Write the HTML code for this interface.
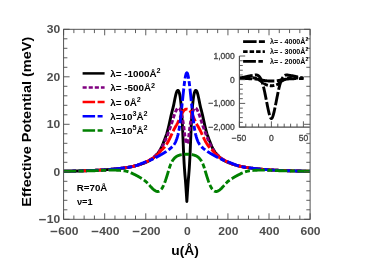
<!DOCTYPE html>
<html><head><meta charset="utf-8"><title>chart</title>
<style>html,body{margin:0;padding:0;background:#fff;}body{width:375px;height:264px;overflow:hidden;}svg{display:block;will-change:transform;}text{font-family:"Liberation Sans",sans-serif;}</style>
</head><body>
<svg width="375" height="264" viewBox="0 0 375 264">
<rect x="0" y="0" width="375" height="264" fill="#ffffff"/>
<clipPath id="cm"><rect x="63.6" y="29.3" width="246.50000000000003" height="190.0"/></clipPath>
<g clip-path="url(#cm)" fill="none" stroke-linejoin="round">
<path d="M63.60,171.29 L63.87,171.28 L64.15,171.28 L64.42,171.27 L64.70,171.27 L64.97,171.26 L65.24,171.26 L65.52,171.25 L65.79,171.25 L66.06,171.24 L66.34,171.23 L66.61,171.23 L66.89,171.22 L67.16,171.22 L67.43,171.21 L67.71,171.20 L67.98,171.20 L68.26,171.19 L68.53,171.19 L68.80,171.18 L69.08,171.17 L69.35,171.17 L69.63,171.16 L69.90,171.16 L70.17,171.15 L70.45,171.14 L70.72,171.14 L71.00,171.13 L71.27,171.12 L71.54,171.12 L71.82,171.11 L72.09,171.10 L72.36,171.10 L72.64,171.09 L72.91,171.08 L73.19,171.08 L73.46,171.07 L73.73,171.06 L74.01,171.06 L74.28,171.05 L74.56,171.04 L74.83,171.04 L75.10,171.03 L75.38,171.02 L75.65,171.01 L75.92,171.01 L76.20,171.00 L76.47,170.99 L76.75,170.98 L77.02,170.98 L77.29,170.97 L77.57,170.96 L77.84,170.95 L78.12,170.95 L78.39,170.94 L78.66,170.93 L78.94,170.92 L79.21,170.91 L79.49,170.91 L79.76,170.90 L80.03,170.89 L80.31,170.88 L80.58,170.87 L80.86,170.87 L81.13,170.86 L81.40,170.85 L81.68,170.84 L81.95,170.83 L82.22,170.82 L82.50,170.81 L82.77,170.80 L83.05,170.80 L83.32,170.79 L83.59,170.78 L83.87,170.77 L84.14,170.76 L84.42,170.75 L84.69,170.74 L84.96,170.73 L85.24,170.72 L85.51,170.71 L85.78,170.70 L86.06,170.69 L86.33,170.68 L86.61,170.67 L86.88,170.66 L87.15,170.65 L87.43,170.64 L87.70,170.63 L87.98,170.62 L88.25,170.61 L88.52,170.60 L88.80,170.59 L89.07,170.58 L89.35,170.57 L89.62,170.56 L89.89,170.55 L90.17,170.54 L90.44,170.53 L90.72,170.52 L90.99,170.50 L91.26,170.49 L91.54,170.48 L91.81,170.47 L92.08,170.46 L92.36,170.45 L92.63,170.43 L92.91,170.42 L93.18,170.41 L93.45,170.40 L93.73,170.39 L94.00,170.37 L94.28,170.36 L94.55,170.35 L94.82,170.34 L95.10,170.32 L95.37,170.31 L95.65,170.30 L95.92,170.28 L96.19,170.27 L96.47,170.26 L96.74,170.24 L97.01,170.23 L97.29,170.22 L97.56,170.20 L97.84,170.19 L98.11,170.18 L98.38,170.16 L98.66,170.15 L98.93,170.13 L99.21,170.12 L99.48,170.10 L99.75,170.09 L100.03,170.07 L100.30,170.06 L100.58,170.04 L100.85,170.03 L101.12,170.01 L101.40,170.00 L101.67,169.98 L101.94,169.96 L102.22,169.95 L102.49,169.93 L102.77,169.91 L103.04,169.90 L103.31,169.88 L103.59,169.86 L103.86,169.85 L104.14,169.83 L104.41,169.81 L104.68,169.79 L104.96,169.78 L105.23,169.76 L105.51,169.74 L105.78,169.72 L106.05,169.70 L106.33,169.69 L106.60,169.67 L106.87,169.65 L107.15,169.63 L107.42,169.61 L107.70,169.59 L107.97,169.57 L108.24,169.55 L108.52,169.53 L108.79,169.51 L109.07,169.49 L109.34,169.47 L109.61,169.45 L109.89,169.43 L110.16,169.40 L110.44,169.38 L110.71,169.36 L110.98,169.34 L111.26,169.32 L111.53,169.29 L111.80,169.27 L112.08,169.25 L112.35,169.22 L112.63,169.20 L112.90,169.18 L113.17,169.15 L113.45,169.13 L113.72,169.10 L114.00,169.08 L114.27,169.05 L114.54,169.03 L114.82,169.00 L115.09,168.97 L115.37,168.95 L115.64,168.92 L115.91,168.89 L116.19,168.87 L116.46,168.84 L116.73,168.81 L117.01,168.78 L117.28,168.75 L117.56,168.72 L117.83,168.69 L118.10,168.66 L118.38,168.63 L118.65,168.60 L118.93,168.57 L119.20,168.54 L119.47,168.51 L119.75,168.48 L120.02,168.45 L120.30,168.41 L120.57,168.38 L120.84,168.35 L121.12,168.31 L121.39,168.28 L121.66,168.25 L121.94,168.21 L122.21,168.18 L122.49,168.14 L122.76,168.11 L123.03,168.07 L123.31,168.03 L123.58,167.99 L123.86,167.96 L124.13,167.92 L124.40,167.88 L124.68,167.84 L124.95,167.80 L125.23,167.76 L125.50,167.72 L125.77,167.68 L126.05,167.64 L126.32,167.60 L126.59,167.56 L126.87,167.51 L127.14,167.47 L127.42,167.43 L127.69,167.38 L127.96,167.34 L128.24,167.29 L128.51,167.25 L128.79,167.20 L129.06,167.15 L129.33,167.10 L129.61,167.05 L129.88,167.00 L130.16,166.95 L130.43,166.90 L130.70,166.85 L130.98,166.80 L131.25,166.74 L131.52,166.69 L131.80,166.63 L132.07,166.58 L132.35,166.52 L132.62,166.46 L132.89,166.40 L133.17,166.34 L133.44,166.28 L133.72,166.22 L133.99,166.15 L134.26,166.09 L134.54,166.02 L134.81,165.96 L135.09,165.89 L135.36,165.82 L135.63,165.75 L135.91,165.68 L136.18,165.61 L136.45,165.53 L136.73,165.46 L137.00,165.38 L137.28,165.31 L137.55,165.23 L137.82,165.15 L138.10,165.07 L138.37,164.99 L138.65,164.91 L138.92,164.82 L139.19,164.74 L139.47,164.65 L139.74,164.57 L140.02,164.48 L140.29,164.39 L140.56,164.30 L140.84,164.21 L141.11,164.11 L141.38,164.02 L141.66,163.92 L141.93,163.83 L142.21,163.73 L142.48,163.63 L142.75,163.53 L143.03,163.43 L143.30,163.33 L143.58,163.23 L143.85,163.12 L144.12,163.02 L144.40,162.91 L144.67,162.80 L144.95,162.69 L145.22,162.58 L145.49,162.47 L145.77,162.36 L146.04,162.24 L146.31,162.12 L146.59,162.00 L146.86,161.88 L147.14,161.76 L147.41,161.63 L147.68,161.50 L147.96,161.37 L148.23,161.23 L148.51,161.09 L148.78,160.95 L149.05,160.80 L149.33,160.65 L149.60,160.50 L149.88,160.34 L150.15,160.18 L150.42,160.01 L150.70,159.84 L150.97,159.67 L151.24,159.49 L151.52,159.30 L151.79,159.11 L152.07,158.91 L152.34,158.71 L152.61,158.51 L152.89,158.29 L153.16,158.07 L153.44,157.85 L153.71,157.62 L153.98,157.38 L154.26,157.14 L154.53,156.89 L154.81,156.63 L155.08,156.36 L155.35,156.09 L155.63,155.81 L155.90,155.53 L156.17,155.23 L156.45,154.93 L156.72,154.62 L157.00,154.30 L157.27,153.98 L157.54,153.64 L157.82,153.29 L158.09,152.93 L158.37,152.56 L158.64,152.18 L158.91,151.78 L159.19,151.37 L159.46,150.94 L159.74,150.50 L160.01,150.04 L160.28,149.56 L160.56,149.07 L160.83,148.56 L161.10,148.02 L161.38,147.47 L161.65,146.90 L161.93,146.30 L162.20,145.68 L162.47,145.04 L162.75,144.37 L163.02,143.69 L163.30,142.99 L163.57,142.28 L163.84,141.57 L164.12,140.86 L164.39,140.15 L164.67,139.45 L164.94,138.75 L165.21,138.05 L165.49,137.34 L165.76,136.61 L166.03,135.85 L166.31,135.06 L166.58,134.23 L166.86,133.35 L167.13,132.43 L167.40,131.45 L167.68,130.43 L167.95,129.37 L168.23,128.28 L168.50,127.15 L168.77,125.99 L169.05,124.81 L169.32,123.60 L169.60,122.38 L169.87,121.14 L170.14,119.89 L170.42,118.63 L170.69,117.38 L170.96,116.14 L171.24,114.93 L171.51,113.74 L171.79,112.58 L172.06,111.48 L172.33,110.41 L172.61,109.37 L172.88,108.32 L173.16,107.23 L173.43,106.08 L173.70,104.83 L173.98,103.50 L174.25,102.12 L174.53,100.72 L174.80,99.33 L175.07,97.98 L175.35,96.70 L175.62,95.49 L175.89,94.38 L176.17,93.38 L176.44,92.51 L176.72,91.77 L176.99,91.18 L177.26,90.74 L177.54,90.46 L177.81,90.34 L178.09,90.39 L178.36,90.62 L178.63,91.03 L178.91,91.63 L179.18,92.43 L179.46,93.43 L179.73,94.63 L180.00,96.09 L180.28,97.82 L180.55,99.87 L180.82,102.27 L181.10,105.06 L181.37,108.26 L181.65,111.91 L181.92,116.05 L182.19,120.76 L182.47,126.16 L182.74,132.31 L183.02,138.97 L183.29,145.70 L183.56,152.14 L183.84,157.99 L184.11,163.10 L184.39,167.53 L184.66,171.39 L184.93,174.80 L185.21,177.92 L185.48,181.04 L185.75,184.55 L186.03,188.55 L186.30,192.84 L186.58,197.22 L186.85,201.49 L187.12,197.22 L187.40,192.84 L187.67,188.55 L187.95,184.55 L188.22,181.04 L188.49,177.92 L188.77,174.80 L189.04,171.39 L189.32,167.53 L189.59,163.10 L189.86,157.99 L190.14,152.14 L190.41,145.70 L190.68,138.97 L190.96,132.31 L191.23,126.16 L191.51,120.76 L191.78,116.05 L192.05,111.91 L192.33,108.26 L192.60,105.06 L192.88,102.27 L193.15,99.87 L193.42,97.82 L193.70,96.09 L193.97,94.63 L194.25,93.43 L194.52,92.43 L194.79,91.63 L195.07,91.03 L195.34,90.62 L195.61,90.39 L195.89,90.34 L196.16,90.46 L196.44,90.74 L196.71,91.18 L196.98,91.77 L197.26,92.51 L197.53,93.38 L197.81,94.38 L198.08,95.49 L198.35,96.70 L198.63,97.98 L198.90,99.33 L199.18,100.72 L199.45,102.12 L199.72,103.50 L200.00,104.83 L200.27,106.08 L200.54,107.23 L200.82,108.32 L201.09,109.37 L201.37,110.41 L201.64,111.48 L201.91,112.58 L202.19,113.74 L202.46,114.93 L202.74,116.14 L203.01,117.38 L203.28,118.63 L203.56,119.89 L203.83,121.14 L204.11,122.38 L204.38,123.60 L204.65,124.81 L204.93,125.99 L205.20,127.15 L205.47,128.28 L205.75,129.37 L206.02,130.43 L206.30,131.45 L206.57,132.43 L206.84,133.35 L207.12,134.23 L207.39,135.06 L207.67,135.85 L207.94,136.61 L208.21,137.34 L208.49,138.05 L208.76,138.75 L209.04,139.45 L209.31,140.15 L209.58,140.86 L209.86,141.57 L210.13,142.28 L210.40,142.99 L210.68,143.69 L210.95,144.37 L211.23,145.04 L211.50,145.68 L211.77,146.30 L212.05,146.90 L212.32,147.47 L212.60,148.02 L212.87,148.56 L213.14,149.07 L213.42,149.56 L213.69,150.04 L213.97,150.50 L214.24,150.94 L214.51,151.37 L214.79,151.78 L215.06,152.18 L215.33,152.56 L215.61,152.93 L215.88,153.29 L216.16,153.64 L216.43,153.98 L216.70,154.30 L216.98,154.62 L217.25,154.93 L217.53,155.23 L217.80,155.53 L218.07,155.81 L218.35,156.09 L218.62,156.36 L218.90,156.63 L219.17,156.89 L219.44,157.14 L219.72,157.38 L219.99,157.62 L220.26,157.85 L220.54,158.07 L220.81,158.29 L221.09,158.51 L221.36,158.71 L221.63,158.91 L221.91,159.11 L222.18,159.30 L222.46,159.49 L222.73,159.67 L223.00,159.84 L223.28,160.01 L223.55,160.18 L223.83,160.34 L224.10,160.50 L224.37,160.65 L224.65,160.80 L224.92,160.95 L225.19,161.09 L225.47,161.23 L225.74,161.37 L226.02,161.50 L226.29,161.63 L226.56,161.76 L226.84,161.88 L227.11,162.00 L227.39,162.12 L227.66,162.24 L227.93,162.36 L228.21,162.47 L228.48,162.58 L228.76,162.69 L229.03,162.80 L229.30,162.91 L229.58,163.02 L229.85,163.12 L230.12,163.23 L230.40,163.33 L230.67,163.43 L230.95,163.53 L231.22,163.63 L231.49,163.73 L231.77,163.83 L232.04,163.92 L232.32,164.02 L232.59,164.11 L232.86,164.21 L233.14,164.30 L233.41,164.39 L233.69,164.48 L233.96,164.57 L234.23,164.65 L234.51,164.74 L234.78,164.82 L235.05,164.91 L235.33,164.99 L235.60,165.07 L235.88,165.15 L236.15,165.23 L236.42,165.31 L236.70,165.38 L236.97,165.46 L237.25,165.53 L237.52,165.61 L237.79,165.68 L238.07,165.75 L238.34,165.82 L238.62,165.89 L238.89,165.96 L239.16,166.02 L239.44,166.09 L239.71,166.15 L239.98,166.22 L240.26,166.28 L240.53,166.34 L240.81,166.40 L241.08,166.46 L241.35,166.52 L241.63,166.58 L241.90,166.63 L242.18,166.69 L242.45,166.74 L242.72,166.80 L243.00,166.85 L243.27,166.90 L243.55,166.95 L243.82,167.00 L244.09,167.05 L244.37,167.10 L244.64,167.15 L244.91,167.20 L245.19,167.25 L245.46,167.29 L245.74,167.34 L246.01,167.38 L246.28,167.43 L246.56,167.47 L246.83,167.51 L247.11,167.56 L247.38,167.60 L247.65,167.64 L247.93,167.68 L248.20,167.72 L248.48,167.76 L248.75,167.80 L249.02,167.84 L249.30,167.88 L249.57,167.92 L249.84,167.96 L250.12,167.99 L250.39,168.03 L250.67,168.07 L250.94,168.11 L251.21,168.14 L251.49,168.18 L251.76,168.21 L252.04,168.25 L252.31,168.28 L252.58,168.31 L252.86,168.35 L253.13,168.38 L253.41,168.41 L253.68,168.45 L253.95,168.48 L254.23,168.51 L254.50,168.54 L254.77,168.57 L255.05,168.60 L255.32,168.63 L255.60,168.66 L255.87,168.69 L256.14,168.72 L256.42,168.75 L256.69,168.78 L256.97,168.81 L257.24,168.84 L257.51,168.87 L257.79,168.89 L258.06,168.92 L258.34,168.95 L258.61,168.97 L258.88,169.00 L259.16,169.03 L259.43,169.05 L259.70,169.08 L259.98,169.10 L260.25,169.13 L260.53,169.15 L260.80,169.18 L261.07,169.20 L261.35,169.22 L261.62,169.25 L261.90,169.27 L262.17,169.29 L262.44,169.32 L262.72,169.34 L262.99,169.36 L263.27,169.38 L263.54,169.40 L263.81,169.43 L264.09,169.45 L264.36,169.47 L264.63,169.49 L264.91,169.51 L265.18,169.53 L265.46,169.55 L265.73,169.57 L266.00,169.59 L266.28,169.61 L266.55,169.63 L266.83,169.65 L267.10,169.67 L267.37,169.69 L267.65,169.70 L267.92,169.72 L268.20,169.74 L268.47,169.76 L268.74,169.78 L269.02,169.79 L269.29,169.81 L269.56,169.83 L269.84,169.85 L270.11,169.86 L270.39,169.88 L270.66,169.90 L270.93,169.91 L271.21,169.93 L271.48,169.95 L271.76,169.96 L272.03,169.98 L272.30,170.00 L272.58,170.01 L272.85,170.03 L273.13,170.04 L273.40,170.06 L273.67,170.07 L273.95,170.09 L274.22,170.10 L274.49,170.12 L274.77,170.13 L275.04,170.15 L275.32,170.16 L275.59,170.18 L275.86,170.19 L276.14,170.20 L276.41,170.22 L276.69,170.23 L276.96,170.24 L277.23,170.26 L277.51,170.27 L277.78,170.28 L278.06,170.30 L278.33,170.31 L278.60,170.32 L278.88,170.34 L279.15,170.35 L279.42,170.36 L279.70,170.37 L279.97,170.39 L280.25,170.40 L280.52,170.41 L280.79,170.42 L281.07,170.43 L281.34,170.45 L281.62,170.46 L281.89,170.47 L282.16,170.48 L282.44,170.49 L282.71,170.50 L282.99,170.52 L283.26,170.53 L283.53,170.54 L283.81,170.55 L284.08,170.56 L284.35,170.57 L284.63,170.58 L284.90,170.59 L285.18,170.60 L285.45,170.61 L285.72,170.62 L286.00,170.63 L286.27,170.64 L286.55,170.65 L286.82,170.66 L287.09,170.67 L287.37,170.68 L287.64,170.69 L287.92,170.70 L288.19,170.71 L288.46,170.72 L288.74,170.73 L289.01,170.74 L289.28,170.75 L289.56,170.76 L289.83,170.77 L290.11,170.78 L290.38,170.79 L290.65,170.80 L290.93,170.80 L291.20,170.81 L291.48,170.82 L291.75,170.83 L292.02,170.84 L292.30,170.85 L292.57,170.86 L292.85,170.87 L293.12,170.87 L293.39,170.88 L293.67,170.89 L293.94,170.90 L294.21,170.91 L294.49,170.91 L294.76,170.92 L295.04,170.93 L295.31,170.94 L295.58,170.95 L295.86,170.95 L296.13,170.96 L296.41,170.97 L296.68,170.98 L296.95,170.98 L297.23,170.99 L297.50,171.00 L297.78,171.01 L298.05,171.01 L298.32,171.02 L298.60,171.03 L298.87,171.04 L299.14,171.04 L299.42,171.05 L299.69,171.06 L299.97,171.06 L300.24,171.07 L300.51,171.08 L300.79,171.08 L301.06,171.09 L301.34,171.10 L301.61,171.10 L301.88,171.11 L302.16,171.12 L302.43,171.12 L302.71,171.13 L302.98,171.14 L303.25,171.14 L303.53,171.15 L303.80,171.16 L304.07,171.16 L304.35,171.17 L304.62,171.17 L304.90,171.18 L305.17,171.19 L305.44,171.19 L305.72,171.20 L305.99,171.20 L306.27,171.21 L306.54,171.22 L306.81,171.22 L307.09,171.23 L307.36,171.23 L307.64,171.24 L307.91,171.25 L308.18,171.25 L308.46,171.26 L308.73,171.26 L309.00,171.27 L309.28,171.27 L309.55,171.28 L309.83,171.28 L310.10,171.29" stroke="#000000" stroke-width="2.9"/>
<path d="M125.23,167.76 L125.50,167.72 L125.77,167.68 L126.05,167.64 L126.32,167.59 L126.59,167.55 L126.87,167.50 L127.14,167.46 L127.42,167.41 L127.69,167.37 L127.96,167.32 L128.24,167.27 L128.51,167.22 L128.79,167.18 L129.06,167.13 L129.33,167.08 L129.61,167.03 L129.88,166.98 L130.16,166.92 L130.43,166.87 L130.70,166.82 L130.98,166.77 L131.25,166.71 L131.52,166.66 L131.80,166.60 L132.07,166.55 L132.35,166.49 L132.62,166.43 L132.89,166.37 L133.17,166.32 L133.44,166.26 L133.72,166.20 L133.99,166.13 L134.26,166.07 L134.54,166.01 L134.81,165.95 L135.09,165.88 L135.36,165.82 L135.63,165.75 L135.91,165.69 L136.18,165.62 L136.45,165.55 L136.73,165.48 L137.00,165.41 L137.28,165.34 L137.55,165.27 L137.82,165.20 L138.10,165.12 L138.37,165.05 L138.65,164.97 L138.92,164.89 L139.19,164.81 L139.47,164.73 L139.74,164.64 L140.02,164.56 L140.29,164.47 L140.56,164.38 L140.84,164.29 L141.11,164.20 L141.38,164.11 L141.66,164.01 L141.93,163.91 L142.21,163.81 L142.48,163.71 L142.75,163.60 L143.03,163.49 L143.30,163.38 L143.58,163.27 L143.85,163.15 L144.12,163.04 L144.40,162.92 L144.67,162.79 L144.95,162.67 L145.22,162.54 L145.49,162.41 L145.77,162.27 L146.04,162.13 L146.31,161.99 L146.59,161.85 L146.86,161.71 L147.14,161.56 L147.41,161.41 L147.68,161.25 L147.96,161.10 L148.23,160.94 L148.51,160.77 L148.78,160.61 L149.05,160.44 L149.33,160.27 L149.60,160.09 L149.88,159.91 L150.15,159.73 L150.42,159.55 L150.70,159.36 L150.97,159.17 L151.24,158.98 L151.52,158.79 L151.79,158.59 L152.07,158.39 L152.34,158.18 L152.61,157.97 L152.89,157.76 L153.16,157.55 L153.44,157.33 L153.71,157.11 L153.98,156.89 L154.26,156.66 L154.53,156.43 L154.81,156.19 L155.08,155.95 L155.35,155.70 L155.63,155.45 L155.90,155.19 L156.17,154.92 L156.45,154.65 L156.72,154.37 L157.00,154.08 L157.27,153.78 L157.54,153.48 L157.82,153.17 L158.09,152.85 L158.37,152.52 L158.64,152.18 L158.91,151.83 L159.19,151.47 L159.46,151.10 L159.74,150.72 L160.01,150.33 L160.28,149.92 L160.56,149.51 L160.83,149.08 L161.10,148.64 L161.38,148.19 L161.65,147.73 L161.93,147.26 L162.20,146.77 L162.47,146.27 L162.75,145.76 L163.02,145.24 L163.30,144.71 L163.57,144.16 L163.84,143.60 L164.12,143.03 L164.39,142.44 L164.67,141.85 L164.94,141.24 L165.21,140.61 L165.49,139.98 L165.76,139.33 L166.03,138.67 L166.31,138.00 L166.58,137.32 L166.86,136.63 L167.13,135.94 L167.40,135.23 L167.68,134.52 L167.95,133.80 L168.23,133.08 L168.50,132.35 L168.77,131.61 L169.05,130.86 L169.32,130.11 L169.60,129.35 L169.87,128.59 L170.14,127.81 L170.42,127.02 L170.69,126.23 L170.96,125.42 L171.24,124.61 L171.51,123.78 L171.79,122.94 L172.06,122.09 L172.33,121.23 L172.61,120.36 L172.88,119.48 L173.16,118.61 L173.43,117.74 L173.70,116.88 L173.98,116.03 L174.25,115.21 L174.53,114.42 L174.80,113.66 L175.07,112.95 L175.35,112.27 L175.62,111.63 L175.89,111.03 L176.17,110.48 L176.44,109.97 L176.72,109.51 L176.99,109.10 L177.26,108.74 L177.54,108.43 L177.81,108.19 L178.09,108.01 L178.36,107.92 L178.63,107.91 L178.91,108.00 L179.18,108.18 L179.46,108.46 L179.73,108.84 L180.00,109.32 L180.28,109.91 L180.55,110.61 L180.82,111.42 L181.10,112.33 L181.37,113.36 L181.65,114.48 L181.92,115.71 L182.19,117.04 L182.47,118.46 L182.74,119.98 L183.02,121.57 L183.29,123.25 L183.56,125.04 L183.84,127.02 L184.11,129.25 L184.39,131.68 L184.66,134.09 L184.93,136.28 L185.21,138.17 L185.48,139.76 L185.75,141.10 L186.03,142.20 L186.30,143.05 L186.58,143.59 L186.85,143.78 L187.12,143.59 L187.40,143.05 L187.67,142.20 L187.95,141.10 L188.22,139.76 L188.49,138.17 L188.77,136.28 L189.04,134.09 L189.32,131.68 L189.59,129.25 L189.86,127.02 L190.14,125.04 L190.41,123.25 L190.68,121.57 L190.96,119.98 L191.23,118.46 L191.51,117.04 L191.78,115.71 L192.05,114.48 L192.33,113.36 L192.60,112.33 L192.88,111.42 L193.15,110.61 L193.42,109.91 L193.70,109.32 L193.97,108.84 L194.25,108.46 L194.52,108.18 L194.79,108.00 L195.07,107.91 L195.34,107.92 L195.61,108.01 L195.89,108.19 L196.16,108.43 L196.44,108.74 L196.71,109.10 L196.98,109.51 L197.26,109.97 L197.53,110.48 L197.81,111.03 L198.08,111.63 L198.35,112.27 L198.63,112.95 L198.90,113.66 L199.18,114.42 L199.45,115.21 L199.72,116.03 L200.00,116.88 L200.27,117.74 L200.54,118.61 L200.82,119.48 L201.09,120.36 L201.37,121.23 L201.64,122.09 L201.91,122.94 L202.19,123.78 L202.46,124.61 L202.74,125.42 L203.01,126.23 L203.28,127.02 L203.56,127.81 L203.83,128.59 L204.11,129.35 L204.38,130.11 L204.65,130.86 L204.93,131.61 L205.20,132.35 L205.47,133.08 L205.75,133.80 L206.02,134.52 L206.30,135.23 L206.57,135.94 L206.84,136.63 L207.12,137.32 L207.39,138.00 L207.67,138.67 L207.94,139.33 L208.21,139.98 L208.49,140.61 L208.76,141.24 L209.04,141.85 L209.31,142.44 L209.58,143.03 L209.86,143.60 L210.13,144.16 L210.40,144.71 L210.68,145.24 L210.95,145.76 L211.23,146.27 L211.50,146.77 L211.77,147.26 L212.05,147.73 L212.32,148.19 L212.60,148.64 L212.87,149.08 L213.14,149.51 L213.42,149.92 L213.69,150.33 L213.97,150.72 L214.24,151.10 L214.51,151.47 L214.79,151.83 L215.06,152.18 L215.33,152.52 L215.61,152.85 L215.88,153.17 L216.16,153.48 L216.43,153.78 L216.70,154.08 L216.98,154.37 L217.25,154.65 L217.53,154.92 L217.80,155.19 L218.07,155.45 L218.35,155.70 L218.62,155.95 L218.90,156.19 L219.17,156.43 L219.44,156.66 L219.72,156.89 L219.99,157.11 L220.26,157.33 L220.54,157.55 L220.81,157.76 L221.09,157.97 L221.36,158.18 L221.63,158.39 L221.91,158.59 L222.18,158.79 L222.46,158.98 L222.73,159.17 L223.00,159.36 L223.28,159.55 L223.55,159.73 L223.83,159.91 L224.10,160.09 L224.37,160.27 L224.65,160.44 L224.92,160.61 L225.19,160.77 L225.47,160.94 L225.74,161.10 L226.02,161.25 L226.29,161.41 L226.56,161.56 L226.84,161.71 L227.11,161.85 L227.39,161.99 L227.66,162.13 L227.93,162.27 L228.21,162.41 L228.48,162.54 L228.76,162.67 L229.03,162.79 L229.30,162.92 L229.58,163.04 L229.85,163.15 L230.12,163.27 L230.40,163.38 L230.67,163.49 L230.95,163.60 L231.22,163.71 L231.49,163.81 L231.77,163.91 L232.04,164.01 L232.32,164.11 L232.59,164.20 L232.86,164.29 L233.14,164.38 L233.41,164.47 L233.69,164.56 L233.96,164.64 L234.23,164.73 L234.51,164.81 L234.78,164.89 L235.05,164.97 L235.33,165.05 L235.60,165.12 L235.88,165.20 L236.15,165.27 L236.42,165.34 L236.70,165.41 L236.97,165.48 L237.25,165.55 L237.52,165.62 L237.79,165.69 L238.07,165.75 L238.34,165.82 L238.62,165.88 L238.89,165.95 L239.16,166.01 L239.44,166.07 L239.71,166.13 L239.98,166.20 L240.26,166.26 L240.53,166.32 L240.81,166.37 L241.08,166.43 L241.35,166.49 L241.63,166.55 L241.90,166.60 L242.18,166.66 L242.45,166.71 L242.72,166.77 L243.00,166.82 L243.27,166.87 L243.55,166.92 L243.82,166.98 L244.09,167.03 L244.37,167.08 L244.64,167.13 L244.91,167.18 L245.19,167.22 L245.46,167.27 L245.74,167.32 L246.01,167.37 L246.28,167.41 L246.56,167.46 L246.83,167.50 L247.11,167.55 L247.38,167.59 L247.65,167.64 L247.93,167.68 L248.20,167.72 L248.48,167.76" stroke="#800080" stroke-width="2.9" stroke-dasharray="4.2 2.05"/>
<path d="M63.60,171.29 L63.87,171.28 L64.15,171.28 L64.42,171.27 L64.70,171.26 L64.97,171.26 L65.24,171.25 L65.52,171.25 L65.79,171.24 L66.06,171.23 L66.34,171.23 L66.61,171.22 L66.89,171.21 L67.16,171.21 L67.43,171.20 L67.71,171.19 L67.98,171.19 L68.26,171.18 L68.53,171.17 L68.80,171.17 L69.08,171.16 L69.35,171.16 L69.63,171.15 L69.90,171.14 L70.17,171.14 L70.45,171.13 L70.72,171.12 L71.00,171.12 L71.27,171.11 L71.54,171.10 L71.82,171.10 L72.09,171.09 L72.36,171.08 L72.64,171.08 L72.91,171.07 L73.19,171.06 L73.46,171.06 L73.73,171.05 L74.01,171.04 L74.28,171.04 L74.56,171.03 L74.83,171.02 L75.10,171.02 L75.38,171.01 L75.65,171.00 L75.92,171.00 L76.20,170.99 L76.47,170.98 L76.75,170.97 L77.02,170.97 L77.29,170.96 L77.57,170.95 L77.84,170.94 L78.12,170.94 L78.39,170.93 L78.66,170.92 L78.94,170.91 L79.21,170.91 L79.49,170.90 L79.76,170.89 L80.03,170.88 L80.31,170.88 L80.58,170.87 L80.86,170.86 L81.13,170.85 L81.40,170.84 L81.68,170.84 L81.95,170.83 L82.22,170.82 L82.50,170.81 L82.77,170.80 L83.05,170.79 L83.32,170.79 L83.59,170.78 L83.87,170.77 L84.14,170.76 L84.42,170.75 L84.69,170.74 L84.96,170.73 L85.24,170.72 L85.51,170.71 L85.78,170.70 L86.06,170.70 L86.33,170.69 L86.61,170.68 L86.88,170.67 L87.15,170.66 L87.43,170.65 L87.70,170.64 L87.98,170.63 L88.25,170.62 L88.52,170.61 L88.80,170.60 L89.07,170.59 L89.35,170.58 L89.62,170.57 L89.89,170.55 L90.17,170.54 L90.44,170.53 L90.72,170.52 L90.99,170.51 L91.26,170.50 L91.54,170.49 L91.81,170.48 L92.08,170.47 L92.36,170.45 L92.63,170.44 L92.91,170.43 L93.18,170.42 L93.45,170.41 L93.73,170.39 L94.00,170.38 L94.28,170.37 L94.55,170.36 L94.82,170.34 L95.10,170.33 L95.37,170.32 L95.65,170.31 L95.92,170.29 L96.19,170.28 L96.47,170.27 L96.74,170.25 L97.01,170.24 L97.29,170.22 L97.56,170.21 L97.84,170.20 L98.11,170.18 L98.38,170.17 L98.66,170.15 L98.93,170.14 L99.21,170.12 L99.48,170.11 L99.75,170.09 L100.03,170.08 L100.30,170.06 L100.58,170.05 L100.85,170.03 L101.12,170.02 L101.40,170.00 L101.67,169.98 L101.94,169.97 L102.22,169.95 L102.49,169.93 L102.77,169.92 L103.04,169.90 L103.31,169.88 L103.59,169.87 L103.86,169.85 L104.14,169.83 L104.41,169.81 L104.68,169.79 L104.96,169.78 L105.23,169.76 L105.51,169.74 L105.78,169.72 L106.05,169.70 L106.33,169.68 L106.60,169.66 L106.87,169.65 L107.15,169.63 L107.42,169.61 L107.70,169.59 L107.97,169.57 L108.24,169.55 L108.52,169.53 L108.79,169.50 L109.07,169.48 L109.34,169.46 L109.61,169.44 L109.89,169.42 L110.16,169.40 L110.44,169.38 L110.71,169.35 L110.98,169.33 L111.26,169.31 L111.53,169.28 L111.80,169.26 L112.08,169.24 L112.35,169.21 L112.63,169.19 L112.90,169.17 L113.17,169.14 L113.45,169.12 L113.72,169.09 L114.00,169.07 L114.27,169.04 L114.54,169.02 L114.82,168.99 L115.09,168.96 L115.37,168.94 L115.64,168.91 L115.91,168.88 L116.19,168.85 L116.46,168.83 L116.73,168.80 L117.01,168.77 L117.28,168.74 L117.56,168.71 L117.83,168.68 L118.10,168.65 L118.38,168.62 L118.65,168.59 L118.93,168.56 L119.20,168.53" stroke="#ff0000" stroke-width="2.9" stroke-dasharray="12.5 2.5"/>
<path d="M119.20,168.53 L119.47,168.50 L119.75,168.47 L120.02,168.44 L120.30,168.40 L120.57,168.37 L120.84,168.34 L121.12,168.31 L121.39,168.27 L121.66,168.24 L121.94,168.20 L122.21,168.17 L122.49,168.13 L122.76,168.10 L123.03,168.06 L123.31,168.03 L123.58,167.99 L123.86,167.95 L124.13,167.92 L124.40,167.88 L124.68,167.84 L124.95,167.80 L125.23,167.76 L125.50,167.72 L125.77,167.68 L126.05,167.64 L126.32,167.60 L126.59,167.56 L126.87,167.52 L127.14,167.48 L127.42,167.44 L127.69,167.39 L127.96,167.35 L128.24,167.30 L128.51,167.26 L128.79,167.21 L129.06,167.17 L129.33,167.12 L129.61,167.07 L129.88,167.02 L130.16,166.97 L130.43,166.92 L130.70,166.87 L130.98,166.81 L131.25,166.76 L131.52,166.71 L131.80,166.65 L132.07,166.59 L132.35,166.54 L132.62,166.48 L132.89,166.42 L133.17,166.36 L133.44,166.29 L133.72,166.23 L133.99,166.17 L134.26,166.10 L134.54,166.03 L134.81,165.96 L135.09,165.89 L135.36,165.82 L135.63,165.75 L135.91,165.68 L136.18,165.60 L136.45,165.52 L136.73,165.45 L137.00,165.37 L137.28,165.28 L137.55,165.20 L137.82,165.12 L138.10,165.03 L138.37,164.95 L138.65,164.86 L138.92,164.77 L139.19,164.68 L139.47,164.58 L139.74,164.49 L140.02,164.39 L140.29,164.30 L140.56,164.20 L140.84,164.10 L141.11,164.00 L141.38,163.89 L141.66,163.79 L141.93,163.68 L142.21,163.58 L142.48,163.47 L142.75,163.36 L143.03,163.24 L143.30,163.13 L143.58,163.02 L143.85,162.90 L144.12,162.78 L144.40,162.66 L144.67,162.54 L144.95,162.42 L145.22,162.29 L145.49,162.17 L145.77,162.04 L146.04,161.91 L146.31,161.78 L146.59,161.65 L146.86,161.51 L147.14,161.38 L147.41,161.24 L147.68,161.10 L147.96,160.96 L148.23,160.82 L148.51,160.68 L148.78,160.53 L149.05,160.38 L149.33,160.24 L149.60,160.09 L149.88,159.94 L150.15,159.78 L150.42,159.63 L150.70,159.47 L150.97,159.32 L151.24,159.16 L151.52,159.00 L151.79,158.84 L152.07,158.67 L152.34,158.51 L152.61,158.35 L152.89,158.18 L153.16,158.01 L153.44,157.84 L153.71,157.67 L153.98,157.50 L154.26,157.32 L154.53,157.13 L154.81,156.94 L155.08,156.75 L155.35,156.54 L155.63,156.33 L155.90,156.12 L156.17,155.89 L156.45,155.65 L156.72,155.41 L157.00,155.15 L157.27,154.89 L157.54,154.61 L157.82,154.32 L158.09,154.01 L158.37,153.70 L158.64,153.38 L158.91,153.06 L159.19,152.73 L159.46,152.40 L159.74,152.08 L160.01,151.76 L160.28,151.45 L160.56,151.15 L160.83,150.86 L161.10,150.57 L161.38,150.30 L161.65,150.02 L161.93,149.75 L162.20,149.48 L162.47,149.21 L162.75,148.94 L163.02,148.66 L163.30,148.38 L163.57,148.09 L163.84,147.80 L164.12,147.49 L164.39,147.18 L164.67,146.85 L164.94,146.51 L165.21,146.15 L165.49,145.79 L165.76,145.41 L166.03,145.02 L166.31,144.62 L166.58,144.20 L166.86,143.77 L167.13,143.33 L167.40,142.88 L167.68,142.41 L167.95,141.93 L168.23,141.44 L168.50,140.94 L168.77,140.42 L169.05,139.89 L169.32,139.34 L169.60,138.79 L169.87,138.22 L170.14,137.64 L170.42,137.05 L170.69,136.45 L170.96,135.85 L171.24,135.25 L171.51,134.64 L171.79,134.04 L172.06,133.43 L172.33,132.84 L172.61,132.25 L172.88,131.67 L173.16,131.10 L173.43,130.54 L173.70,130.00 L173.98,129.48 L174.25,128.96 L174.53,128.47 L174.80,127.98 L175.07,127.50 L175.35,127.02 L175.62,126.55 L175.89,126.07 L176.17,125.60 L176.44,125.11 L176.72,124.62 L176.99,124.12 L177.26,123.61 L177.54,123.08 L177.81,122.54 L178.09,121.98 L178.36,121.42 L178.63,120.84 L178.91,120.25 L179.18,119.65 L179.46,119.04 L179.73,118.43 L180.00,117.82 L180.28,117.20 L180.55,116.59 L180.82,115.98 L181.10,115.38 L181.37,114.80 L181.65,114.23 L181.92,113.68 L182.19,113.15 L182.47,112.65 L182.74,112.18 L183.02,111.74 L183.29,111.33 L183.56,110.96 L183.84,110.62 L184.11,110.32 L184.39,110.05 L184.66,109.82 L184.93,109.63 L185.21,109.48 L185.48,109.35 L185.75,109.25 L186.03,109.18 L186.30,109.13 L186.58,109.11 L186.85,109.10 L187.12,109.11 L187.40,109.13 L187.67,109.18 L187.95,109.25 L188.22,109.35 L188.49,109.48 L188.77,109.63 L189.04,109.82 L189.32,110.05 L189.59,110.32 L189.86,110.62 L190.14,110.96 L190.41,111.33 L190.68,111.74 L190.96,112.18 L191.23,112.65 L191.51,113.15 L191.78,113.68 L192.05,114.23 L192.33,114.80 L192.60,115.38 L192.88,115.98 L193.15,116.59 L193.42,117.20 L193.70,117.82 L193.97,118.43 L194.25,119.04 L194.52,119.65 L194.79,120.25 L195.07,120.84 L195.34,121.42 L195.61,121.98 L195.89,122.54 L196.16,123.08 L196.44,123.61 L196.71,124.12 L196.98,124.62 L197.26,125.11 L197.53,125.60 L197.81,126.07 L198.08,126.55 L198.35,127.02 L198.63,127.50 L198.90,127.98 L199.18,128.47 L199.45,128.96 L199.72,129.48 L200.00,130.00 L200.27,130.54 L200.54,131.10 L200.82,131.67 L201.09,132.25 L201.37,132.84 L201.64,133.43 L201.91,134.04 L202.19,134.64 L202.46,135.25 L202.74,135.85 L203.01,136.45 L203.28,137.05 L203.56,137.64 L203.83,138.22 L204.11,138.79 L204.38,139.34 L204.65,139.89 L204.93,140.42 L205.20,140.94 L205.47,141.44 L205.75,141.93 L206.02,142.41 L206.30,142.88 L206.57,143.33 L206.84,143.77 L207.12,144.20 L207.39,144.62 L207.67,145.02 L207.94,145.41 L208.21,145.79 L208.49,146.15 L208.76,146.51 L209.04,146.85 L209.31,147.18 L209.58,147.49 L209.86,147.80 L210.13,148.09 L210.40,148.38 L210.68,148.66 L210.95,148.94 L211.23,149.21 L211.50,149.48 L211.77,149.75 L212.05,150.02 L212.32,150.30 L212.60,150.57 L212.87,150.86 L213.14,151.15 L213.42,151.45 L213.69,151.76 L213.97,152.08 L214.24,152.40 L214.51,152.73 L214.79,153.06 L215.06,153.38 L215.33,153.70 L215.61,154.01 L215.88,154.32 L216.16,154.61 L216.43,154.89 L216.70,155.15 L216.98,155.41 L217.25,155.65 L217.53,155.89 L217.80,156.12 L218.07,156.33 L218.35,156.54 L218.62,156.75 L218.90,156.94 L219.17,157.13 L219.44,157.32 L219.72,157.50 L219.99,157.67 L220.26,157.84 L220.54,158.01 L220.81,158.18 L221.09,158.35 L221.36,158.51 L221.63,158.67 L221.91,158.84 L222.18,159.00 L222.46,159.16 L222.73,159.32 L223.00,159.47 L223.28,159.63 L223.55,159.78 L223.83,159.94 L224.10,160.09 L224.37,160.24 L224.65,160.38 L224.92,160.53 L225.19,160.68 L225.47,160.82 L225.74,160.96 L226.02,161.10 L226.29,161.24 L226.56,161.38 L226.84,161.51 L227.11,161.65 L227.39,161.78 L227.66,161.91 L227.93,162.04 L228.21,162.17 L228.48,162.29 L228.76,162.42 L229.03,162.54 L229.30,162.66 L229.58,162.78 L229.85,162.90 L230.12,163.02 L230.40,163.13 L230.67,163.24 L230.95,163.36 L231.22,163.47 L231.49,163.58 L231.77,163.68 L232.04,163.79 L232.32,163.89 L232.59,164.00 L232.86,164.10 L233.14,164.20 L233.41,164.30 L233.69,164.39 L233.96,164.49 L234.23,164.58 L234.51,164.68 L234.78,164.77 L235.05,164.86 L235.33,164.95 L235.60,165.03 L235.88,165.12 L236.15,165.20 L236.42,165.28 L236.70,165.37 L236.97,165.45 L237.25,165.52 L237.52,165.60 L237.79,165.68 L238.07,165.75 L238.34,165.82 L238.62,165.89 L238.89,165.96 L239.16,166.03 L239.44,166.10 L239.71,166.17 L239.98,166.23 L240.26,166.29 L240.53,166.36 L240.81,166.42 L241.08,166.48 L241.35,166.54 L241.63,166.59 L241.90,166.65 L242.18,166.71 L242.45,166.76 L242.72,166.81 L243.00,166.87 L243.27,166.92 L243.55,166.97 L243.82,167.02 L244.09,167.07 L244.37,167.12 L244.64,167.17 L244.91,167.21 L245.19,167.26 L245.46,167.30 L245.74,167.35 L246.01,167.39 L246.28,167.44 L246.56,167.48 L246.83,167.52 L247.11,167.56 L247.38,167.60 L247.65,167.64 L247.93,167.68 L248.20,167.72 L248.48,167.76 L248.75,167.80 L249.02,167.84 L249.30,167.88 L249.57,167.92 L249.84,167.95 L250.12,167.99 L250.39,168.03 L250.67,168.06 L250.94,168.10 L251.21,168.13 L251.49,168.17 L251.76,168.20 L252.04,168.24 L252.31,168.27 L252.58,168.31 L252.86,168.34 L253.13,168.37 L253.41,168.40 L253.68,168.44 L253.95,168.47 L254.23,168.50 L254.50,168.53 L254.77,168.56 L255.05,168.59 L255.32,168.62 L255.60,168.65 L255.87,168.68 L256.14,168.71 L256.42,168.74 L256.69,168.77 L256.97,168.80 L257.24,168.83 L257.51,168.85 L257.79,168.88 L258.06,168.91 L258.34,168.94 L258.61,168.96 L258.88,168.99 L259.16,169.02 L259.43,169.04 L259.70,169.07 L259.98,169.09 L260.25,169.12 L260.53,169.14 L260.80,169.17 L261.07,169.19 L261.35,169.21 L261.62,169.24 L261.90,169.26 L262.17,169.28 L262.44,169.31 L262.72,169.33 L262.99,169.35 L263.27,169.38 L263.54,169.40 L263.81,169.42 L264.09,169.44 L264.36,169.46 L264.63,169.48 L264.91,169.50 L265.18,169.53 L265.46,169.55 L265.73,169.57 L266.00,169.59 L266.28,169.61 L266.55,169.63 L266.83,169.65 L267.10,169.66 L267.37,169.68 L267.65,169.70 L267.92,169.72 L268.20,169.74 L268.47,169.76 L268.74,169.78 L269.02,169.79 L269.29,169.81 L269.56,169.83 L269.84,169.85 L270.11,169.87 L270.39,169.88 L270.66,169.90 L270.93,169.92 L271.21,169.93 L271.48,169.95 L271.76,169.97 L272.03,169.98 L272.30,170.00 L272.58,170.02 L272.85,170.03 L273.13,170.05 L273.40,170.06 L273.67,170.08 L273.95,170.09 L274.22,170.11 L274.49,170.12 L274.77,170.14 L275.04,170.15 L275.32,170.17 L275.59,170.18 L275.86,170.20 L276.14,170.21 L276.41,170.22 L276.69,170.24 L276.96,170.25 L277.23,170.27 L277.51,170.28 L277.78,170.29 L278.06,170.31 L278.33,170.32 L278.60,170.33 L278.88,170.34 L279.15,170.36 L279.42,170.37 L279.70,170.38 L279.97,170.39 L280.25,170.41 L280.52,170.42 L280.79,170.43 L281.07,170.44 L281.34,170.45 L281.62,170.47 L281.89,170.48 L282.16,170.49 L282.44,170.50 L282.71,170.51 L282.99,170.52 L283.26,170.53 L283.53,170.54 L283.81,170.55 L284.08,170.57 L284.35,170.58 L284.63,170.59 L284.90,170.60 L285.18,170.61 L285.45,170.62 L285.72,170.63 L286.00,170.64 L286.27,170.65 L286.55,170.66 L286.82,170.67 L287.09,170.68 L287.37,170.69 L287.64,170.70 L287.92,170.70 L288.19,170.71 L288.46,170.72 L288.74,170.73 L289.01,170.74 L289.28,170.75 L289.56,170.76 L289.83,170.77 L290.11,170.78 L290.38,170.79 L290.65,170.79 L290.93,170.80 L291.20,170.81 L291.48,170.82 L291.75,170.83 L292.02,170.84 L292.30,170.84 L292.57,170.85 L292.85,170.86 L293.12,170.87 L293.39,170.88 L293.67,170.88 L293.94,170.89 L294.21,170.90 L294.49,170.91 L294.76,170.91 L295.04,170.92 L295.31,170.93 L295.58,170.94 L295.86,170.94 L296.13,170.95 L296.41,170.96 L296.68,170.97 L296.95,170.97 L297.23,170.98 L297.50,170.99 L297.78,171.00 L298.05,171.00 L298.32,171.01 L298.60,171.02 L298.87,171.02 L299.14,171.03 L299.42,171.04 L299.69,171.04 L299.97,171.05 L300.24,171.06 L300.51,171.06 L300.79,171.07 L301.06,171.08 L301.34,171.08 L301.61,171.09 L301.88,171.10 L302.16,171.10 L302.43,171.11 L302.71,171.12 L302.98,171.12 L303.25,171.13 L303.53,171.14 L303.80,171.14 L304.07,171.15 L304.35,171.16 L304.62,171.16 L304.90,171.17 L305.17,171.17 L305.44,171.18 L305.72,171.19 L305.99,171.19 L306.27,171.20 L306.54,171.21 L306.81,171.21 L307.09,171.22 L307.36,171.23 L307.64,171.23 L307.91,171.24 L308.18,171.25 L308.46,171.25 L308.73,171.26 L309.00,171.26 L309.28,171.27 L309.55,171.28 L309.83,171.28 L310.10,171.29" stroke="#ff0000" stroke-width="2.9" stroke-dasharray="12.5 2.5" stroke-dashoffset="5.19"/>
<path d="M63.60,171.29 L63.87,171.28 L64.15,171.27 L64.42,171.27 L64.70,171.26 L64.97,171.25 L65.24,171.24 L65.52,171.24 L65.79,171.23 L66.06,171.22 L66.34,171.21 L66.61,171.21 L66.89,171.20 L67.16,171.19 L67.43,171.19 L67.71,171.18 L67.98,171.17 L68.26,171.16 L68.53,171.16 L68.80,171.15 L69.08,171.14 L69.35,171.14 L69.63,171.13 L69.90,171.12 L70.17,171.12 L70.45,171.11 L70.72,171.10 L71.00,171.10 L71.27,171.09 L71.54,171.08 L71.82,171.08 L72.09,171.07 L72.36,171.06 L72.64,171.06 L72.91,171.05 L73.19,171.04 L73.46,171.04 L73.73,171.03 L74.01,171.02 L74.28,171.02 L74.56,171.01 L74.83,171.00 L75.10,171.00 L75.38,170.99 L75.65,170.98 L75.92,170.98 L76.20,170.97 L76.47,170.96 L76.75,170.96 L77.02,170.95 L77.29,170.94 L77.57,170.94 L77.84,170.93 L78.12,170.92 L78.39,170.92 L78.66,170.91 L78.94,170.90 L79.21,170.89 L79.49,170.89 L79.76,170.88 L80.03,170.87 L80.31,170.87 L80.58,170.86 L80.86,170.85 L81.13,170.84 L81.40,170.84 L81.68,170.83 L81.95,170.82 L82.22,170.81 L82.50,170.81 L82.77,170.80 L83.05,170.79 L83.32,170.78 L83.59,170.78 L83.87,170.77 L84.14,170.76 L84.42,170.75 L84.69,170.74 L84.96,170.73 L85.24,170.73 L85.51,170.72 L85.78,170.71 L86.06,170.70 L86.33,170.69 L86.61,170.68 L86.88,170.67 L87.15,170.67 L87.43,170.66 L87.70,170.65 L87.98,170.64 L88.25,170.63 L88.52,170.62 L88.80,170.61 L89.07,170.60 L89.35,170.59 L89.62,170.58 L89.89,170.57 L90.17,170.56 L90.44,170.55 L90.72,170.54 L90.99,170.53 L91.26,170.52 L91.54,170.51 L91.81,170.50 L92.08,170.48 L92.36,170.47 L92.63,170.46 L92.91,170.45 L93.18,170.44 L93.45,170.43 L93.73,170.41 L94.00,170.40 L94.28,170.39 L94.55,170.38 L94.82,170.37 L95.10,170.35 L95.37,170.34 L95.65,170.33 L95.92,170.31 L96.19,170.30 L96.47,170.29 L96.74,170.27 L97.01,170.26 L97.29,170.25 L97.56,170.23 L97.84,170.22 L98.11,170.20 L98.38,170.19 L98.66,170.17 L98.93,170.16 L99.21,170.14 L99.48,170.13 L99.75,170.11 L100.03,170.10 L100.30,170.08 L100.58,170.06 L100.85,170.05 L101.12,170.03 L101.40,170.01 L101.67,170.00 L101.94,169.98 L102.22,169.96 L102.49,169.94 L102.77,169.93 L103.04,169.91 L103.31,169.89 L103.59,169.87 L103.86,169.85 L104.14,169.83 L104.41,169.81 L104.68,169.79 L104.96,169.78 L105.23,169.76 L105.51,169.74 L105.78,169.72 L106.05,169.69 L106.33,169.67 L106.60,169.65 L106.87,169.63 L107.15,169.61 L107.42,169.59 L107.70,169.57 L107.97,169.54 L108.24,169.52 L108.52,169.50 L108.79,169.48 L109.07,169.45 L109.34,169.43 L109.61,169.41 L109.89,169.38 L110.16,169.36 L110.44,169.34 L110.71,169.31 L110.98,169.29 L111.26,169.26 L111.53,169.24 L111.80,169.21 L112.08,169.19 L112.35,169.16 L112.63,169.14 L112.90,169.11 L113.17,169.09 L113.45,169.06 L113.72,169.03 L114.00,169.01 L114.27,168.98 L114.54,168.95 L114.82,168.93 L115.09,168.90 L115.37,168.87 L115.64,168.84 L115.91,168.82 L116.19,168.79 L116.46,168.76 L116.73,168.73 L117.01,168.70 L117.28,168.67 L117.56,168.64 L117.83,168.62 L118.10,168.59 L118.38,168.56 L118.65,168.53 L118.93,168.50 L119.20,168.47" stroke="#0000ff" stroke-width="2.9" stroke-dasharray="12.5 2.5 5 2.5"/>
<path d="M119.20,168.47 L119.47,168.44 L119.75,168.41 L120.02,168.38 L120.30,168.34 L120.57,168.31 L120.84,168.28 L121.12,168.25 L121.39,168.22 L121.66,168.19 L121.94,168.16 L122.21,168.12 L122.49,168.09 L122.76,168.06 L123.03,168.03 L123.31,168.00 L123.58,167.96 L123.86,167.93 L124.13,167.90 L124.40,167.86 L124.68,167.83 L124.95,167.80 L125.23,167.76 L125.50,167.73 L125.77,167.69 L126.05,167.66 L126.32,167.63 L126.59,167.59 L126.87,167.55 L127.14,167.52 L127.42,167.48 L127.69,167.44 L127.96,167.41 L128.24,167.37 L128.51,167.33 L128.79,167.29 L129.06,167.24 L129.33,167.20 L129.61,167.16 L129.88,167.11 L130.16,167.06 L130.43,167.01 L130.70,166.96 L130.98,166.91 L131.25,166.86 L131.52,166.81 L131.80,166.75 L132.07,166.69 L132.35,166.63 L132.62,166.57 L132.89,166.51 L133.17,166.44 L133.44,166.37 L133.72,166.30 L133.99,166.23 L134.26,166.15 L134.54,166.08 L134.81,166.00 L135.09,165.91 L135.36,165.83 L135.63,165.74 L135.91,165.65 L136.18,165.56 L136.45,165.46 L136.73,165.37 L137.00,165.27 L137.28,165.17 L137.55,165.06 L137.82,164.96 L138.10,164.85 L138.37,164.75 L138.65,164.64 L138.92,164.53 L139.19,164.42 L139.47,164.31 L139.74,164.20 L140.02,164.09 L140.29,163.97 L140.56,163.86 L140.84,163.75 L141.11,163.64 L141.38,163.53 L141.66,163.42 L141.93,163.31 L142.21,163.20 L142.48,163.09 L142.75,162.99 L143.03,162.88 L143.30,162.78 L143.58,162.67 L143.85,162.57 L144.12,162.47 L144.40,162.37 L144.67,162.27 L144.95,162.17 L145.22,162.07 L145.49,161.97 L145.77,161.88 L146.04,161.78 L146.31,161.68 L146.59,161.58 L146.86,161.48 L147.14,161.38 L147.41,161.28 L147.68,161.18 L147.96,161.08 L148.23,160.98 L148.51,160.88 L148.78,160.77 L149.05,160.67 L149.33,160.56 L149.60,160.46 L149.88,160.35 L150.15,160.24 L150.42,160.13 L150.70,160.01 L150.97,159.90 L151.24,159.78 L151.52,159.66 L151.79,159.54 L152.07,159.41 L152.34,159.29 L152.61,159.16 L152.89,159.03 L153.16,158.90 L153.44,158.77 L153.71,158.64 L153.98,158.51 L154.26,158.37 L154.53,158.23 L154.81,158.09 L155.08,157.95 L155.35,157.81 L155.63,157.67 L155.90,157.52 L156.17,157.38 L156.45,157.23 L156.72,157.09 L157.00,156.94 L157.27,156.79 L157.54,156.64 L157.82,156.49 L158.09,156.34 L158.37,156.18 L158.64,156.03 L158.91,155.87 L159.19,155.72 L159.46,155.56 L159.74,155.41 L160.01,155.25 L160.28,155.09 L160.56,154.94 L160.83,154.78 L161.10,154.62 L161.38,154.46 L161.65,154.30 L161.93,154.14 L162.20,153.98 L162.47,153.82 L162.75,153.66 L163.02,153.49 L163.30,153.33 L163.57,153.16 L163.84,152.99 L164.12,152.83 L164.39,152.66 L164.67,152.48 L164.94,152.31 L165.21,152.14 L165.49,151.96 L165.76,151.78 L166.03,151.60 L166.31,151.42 L166.58,151.23 L166.86,151.05 L167.13,150.86 L167.40,150.67 L167.68,150.47 L167.95,150.28 L168.23,150.08 L168.50,149.88 L168.77,149.67 L169.05,149.47 L169.32,149.25 L169.60,149.04 L169.87,148.82 L170.14,148.59 L170.42,148.36 L170.69,148.13 L170.96,147.89 L171.24,147.64 L171.51,147.39 L171.79,147.13 L172.06,146.86 L172.33,146.59 L172.61,146.31 L172.88,146.01 L173.16,145.70 L173.43,145.37 L173.70,145.03 L173.98,144.65 L174.25,144.26 L174.53,143.83 L174.80,143.37 L175.07,142.88 L175.35,142.35 L175.62,141.78 L175.89,141.17 L176.17,140.51 L176.44,139.81 L176.72,139.05 L176.99,138.24 L177.26,137.38 L177.54,136.45 L177.81,135.45 L178.09,134.35 L178.36,133.14 L178.63,131.80 L178.91,130.32 L179.18,128.69 L179.46,126.89 L179.73,124.95 L180.00,122.87 L180.28,120.67 L180.55,118.36 L180.82,115.96 L181.10,113.48 L181.37,110.94 L181.65,108.37 L181.92,105.78 L182.19,103.18 L182.47,100.59 L182.74,98.01 L183.02,95.43 L183.29,92.85 L183.56,90.30 L183.84,87.82 L184.11,85.44 L184.39,83.21 L184.66,81.17 L184.93,79.32 L185.21,77.67 L185.48,76.24 L185.75,75.04 L186.03,74.07 L186.30,73.36 L186.58,72.91 L186.85,72.76 L187.12,72.91 L187.40,73.36 L187.67,74.07 L187.95,75.04 L188.22,76.24 L188.49,77.67 L188.77,79.32 L189.04,81.17 L189.32,83.21 L189.59,85.44 L189.86,87.82 L190.14,90.30 L190.41,92.85 L190.68,95.43 L190.96,98.01 L191.23,100.59 L191.51,103.18 L191.78,105.78 L192.05,108.37 L192.33,110.94 L192.60,113.48 L192.88,115.96 L193.15,118.36 L193.42,120.67 L193.70,122.87 L193.97,124.95 L194.25,126.89 L194.52,128.69 L194.79,130.32 L195.07,131.80 L195.34,133.14 L195.61,134.35 L195.89,135.45 L196.16,136.45 L196.44,137.38 L196.71,138.24 L196.98,139.05 L197.26,139.81 L197.53,140.51 L197.81,141.17 L198.08,141.78 L198.35,142.35 L198.63,142.88 L198.90,143.37 L199.18,143.83 L199.45,144.26 L199.72,144.65 L200.00,145.03 L200.27,145.37 L200.54,145.70 L200.82,146.01 L201.09,146.31 L201.37,146.59 L201.64,146.86 L201.91,147.13 L202.19,147.39 L202.46,147.64 L202.74,147.89 L203.01,148.13 L203.28,148.36 L203.56,148.59 L203.83,148.82 L204.11,149.04 L204.38,149.25 L204.65,149.47 L204.93,149.67 L205.20,149.88 L205.47,150.08 L205.75,150.28 L206.02,150.47 L206.30,150.67 L206.57,150.86 L206.84,151.05 L207.12,151.23 L207.39,151.42 L207.67,151.60 L207.94,151.78 L208.21,151.96 L208.49,152.14 L208.76,152.31 L209.04,152.48 L209.31,152.66 L209.58,152.83 L209.86,152.99 L210.13,153.16 L210.40,153.33 L210.68,153.49 L210.95,153.66 L211.23,153.82 L211.50,153.98 L211.77,154.14 L212.05,154.30 L212.32,154.46 L212.60,154.62 L212.87,154.78 L213.14,154.94 L213.42,155.09 L213.69,155.25 L213.97,155.41 L214.24,155.56 L214.51,155.72 L214.79,155.87 L215.06,156.03 L215.33,156.18 L215.61,156.34 L215.88,156.49 L216.16,156.64 L216.43,156.79 L216.70,156.94 L216.98,157.09 L217.25,157.23 L217.53,157.38 L217.80,157.52 L218.07,157.67 L218.35,157.81 L218.62,157.95 L218.90,158.09 L219.17,158.23 L219.44,158.37 L219.72,158.51 L219.99,158.64 L220.26,158.77 L220.54,158.90 L220.81,159.03 L221.09,159.16 L221.36,159.29 L221.63,159.41 L221.91,159.54 L222.18,159.66 L222.46,159.78 L222.73,159.90 L223.00,160.01 L223.28,160.13 L223.55,160.24 L223.83,160.35 L224.10,160.46 L224.37,160.56 L224.65,160.67 L224.92,160.77 L225.19,160.88 L225.47,160.98 L225.74,161.08 L226.02,161.18 L226.29,161.28 L226.56,161.38 L226.84,161.48 L227.11,161.58 L227.39,161.68 L227.66,161.78 L227.93,161.88 L228.21,161.97 L228.48,162.07 L228.76,162.17 L229.03,162.27 L229.30,162.37 L229.58,162.47 L229.85,162.57 L230.12,162.67 L230.40,162.78 L230.67,162.88 L230.95,162.99 L231.22,163.09 L231.49,163.20 L231.77,163.31 L232.04,163.42 L232.32,163.53 L232.59,163.64 L232.86,163.75 L233.14,163.86 L233.41,163.97 L233.69,164.09 L233.96,164.20 L234.23,164.31 L234.51,164.42 L234.78,164.53 L235.05,164.64 L235.33,164.75 L235.60,164.85 L235.88,164.96 L236.15,165.06 L236.42,165.17 L236.70,165.27 L236.97,165.37 L237.25,165.46 L237.52,165.56 L237.79,165.65 L238.07,165.74 L238.34,165.83 L238.62,165.91 L238.89,166.00 L239.16,166.08 L239.44,166.15 L239.71,166.23 L239.98,166.30 L240.26,166.37 L240.53,166.44 L240.81,166.51 L241.08,166.57 L241.35,166.63 L241.63,166.69 L241.90,166.75 L242.18,166.81 L242.45,166.86 L242.72,166.91 L243.00,166.96 L243.27,167.01 L243.55,167.06 L243.82,167.11 L244.09,167.16 L244.37,167.20 L244.64,167.24 L244.91,167.29 L245.19,167.33 L245.46,167.37 L245.74,167.41 L246.01,167.44 L246.28,167.48 L246.56,167.52 L246.83,167.55 L247.11,167.59 L247.38,167.63 L247.65,167.66 L247.93,167.69 L248.20,167.73 L248.48,167.76 L248.75,167.80 L249.02,167.83 L249.30,167.86 L249.57,167.90 L249.84,167.93 L250.12,167.96 L250.39,168.00 L250.67,168.03 L250.94,168.06 L251.21,168.09 L251.49,168.12 L251.76,168.16 L252.04,168.19 L252.31,168.22 L252.58,168.25 L252.86,168.28 L253.13,168.31 L253.41,168.34 L253.68,168.38 L253.95,168.41 L254.23,168.44 L254.50,168.47 L254.77,168.50 L255.05,168.53 L255.32,168.56 L255.60,168.59 L255.87,168.62 L256.14,168.64 L256.42,168.67 L256.69,168.70 L256.97,168.73 L257.24,168.76 L257.51,168.79 L257.79,168.82 L258.06,168.84 L258.34,168.87 L258.61,168.90 L258.88,168.93 L259.16,168.95 L259.43,168.98 L259.70,169.01 L259.98,169.03 L260.25,169.06 L260.53,169.09 L260.80,169.11 L261.07,169.14 L261.35,169.16 L261.62,169.19 L261.90,169.21 L262.17,169.24 L262.44,169.26 L262.72,169.29 L262.99,169.31 L263.27,169.34 L263.54,169.36 L263.81,169.38 L264.09,169.41 L264.36,169.43 L264.63,169.45 L264.91,169.48 L265.18,169.50 L265.46,169.52 L265.73,169.54 L266.00,169.57 L266.28,169.59 L266.55,169.61 L266.83,169.63 L267.10,169.65 L267.37,169.67 L267.65,169.69 L267.92,169.72 L268.20,169.74 L268.47,169.76 L268.74,169.78 L269.02,169.79 L269.29,169.81 L269.56,169.83 L269.84,169.85 L270.11,169.87 L270.39,169.89 L270.66,169.91 L270.93,169.93 L271.21,169.94 L271.48,169.96 L271.76,169.98 L272.03,170.00 L272.30,170.01 L272.58,170.03 L272.85,170.05 L273.13,170.06 L273.40,170.08 L273.67,170.10 L273.95,170.11 L274.22,170.13 L274.49,170.14 L274.77,170.16 L275.04,170.17 L275.32,170.19 L275.59,170.20 L275.86,170.22 L276.14,170.23 L276.41,170.25 L276.69,170.26 L276.96,170.27 L277.23,170.29 L277.51,170.30 L277.78,170.31 L278.06,170.33 L278.33,170.34 L278.60,170.35 L278.88,170.37 L279.15,170.38 L279.42,170.39 L279.70,170.40 L279.97,170.41 L280.25,170.43 L280.52,170.44 L280.79,170.45 L281.07,170.46 L281.34,170.47 L281.62,170.48 L281.89,170.50 L282.16,170.51 L282.44,170.52 L282.71,170.53 L282.99,170.54 L283.26,170.55 L283.53,170.56 L283.81,170.57 L284.08,170.58 L284.35,170.59 L284.63,170.60 L284.90,170.61 L285.18,170.62 L285.45,170.63 L285.72,170.64 L286.00,170.65 L286.27,170.66 L286.55,170.67 L286.82,170.67 L287.09,170.68 L287.37,170.69 L287.64,170.70 L287.92,170.71 L288.19,170.72 L288.46,170.73 L288.74,170.73 L289.01,170.74 L289.28,170.75 L289.56,170.76 L289.83,170.77 L290.11,170.78 L290.38,170.78 L290.65,170.79 L290.93,170.80 L291.20,170.81 L291.48,170.81 L291.75,170.82 L292.02,170.83 L292.30,170.84 L292.57,170.84 L292.85,170.85 L293.12,170.86 L293.39,170.87 L293.67,170.87 L293.94,170.88 L294.21,170.89 L294.49,170.89 L294.76,170.90 L295.04,170.91 L295.31,170.92 L295.58,170.92 L295.86,170.93 L296.13,170.94 L296.41,170.94 L296.68,170.95 L296.95,170.96 L297.23,170.96 L297.50,170.97 L297.78,170.98 L298.05,170.98 L298.32,170.99 L298.60,171.00 L298.87,171.00 L299.14,171.01 L299.42,171.02 L299.69,171.02 L299.97,171.03 L300.24,171.04 L300.51,171.04 L300.79,171.05 L301.06,171.06 L301.34,171.06 L301.61,171.07 L301.88,171.08 L302.16,171.08 L302.43,171.09 L302.71,171.10 L302.98,171.10 L303.25,171.11 L303.53,171.12 L303.80,171.12 L304.07,171.13 L304.35,171.14 L304.62,171.14 L304.90,171.15 L305.17,171.16 L305.44,171.16 L305.72,171.17 L305.99,171.18 L306.27,171.19 L306.54,171.19 L306.81,171.20 L307.09,171.21 L307.36,171.21 L307.64,171.22 L307.91,171.23 L308.18,171.24 L308.46,171.24 L308.73,171.25 L309.00,171.26 L309.28,171.27 L309.55,171.27 L309.83,171.28 L310.10,171.29" stroke="#0000ff" stroke-width="2.9" stroke-dasharray="12.5 2.5 5 2.5" stroke-dashoffset="6.69"/>
<path d="M63.60,171.33 L63.87,171.32 L64.15,171.31 L64.42,171.30 L64.70,171.30 L64.97,171.29 L65.24,171.28 L65.52,171.28 L65.79,171.27 L66.06,171.26 L66.34,171.26 L66.61,171.25 L66.89,171.25 L67.16,171.24 L67.43,171.23 L67.71,171.23 L67.98,171.22 L68.26,171.22 L68.53,171.21 L68.80,171.21 L69.08,171.20 L69.35,171.20 L69.63,171.19 L69.90,171.19 L70.17,171.18 L70.45,171.17 L70.72,171.17 L71.00,171.16 L71.27,171.16 L71.54,171.15 L71.82,171.15 L72.09,171.15 L72.36,171.14 L72.64,171.14 L72.91,171.13 L73.19,171.13 L73.46,171.12 L73.73,171.12 L74.01,171.11 L74.28,171.11 L74.56,171.10 L74.83,171.10 L75.10,171.09 L75.38,171.09 L75.65,171.09 L75.92,171.08 L76.20,171.08 L76.47,171.07 L76.75,171.07 L77.02,171.06 L77.29,171.06 L77.57,171.06 L77.84,171.05 L78.12,171.05 L78.39,171.04 L78.66,171.04 L78.94,171.03 L79.21,171.03 L79.49,171.02 L79.76,171.02 L80.03,171.02 L80.31,171.01 L80.58,171.01 L80.86,171.00 L81.13,171.00 L81.40,170.99 L81.68,170.99 L81.95,170.98 L82.22,170.98 L82.50,170.97 L82.77,170.97 L83.05,170.96 L83.32,170.96 L83.59,170.95 L83.87,170.95 L84.14,170.94 L84.42,170.94 L84.69,170.93 L84.96,170.93 L85.24,170.92 L85.51,170.92 L85.78,170.91 L86.06,170.91 L86.33,170.90 L86.61,170.90 L86.88,170.89 L87.15,170.89 L87.43,170.88 L87.70,170.87 L87.98,170.87 L88.25,170.86 L88.52,170.86 L88.80,170.85 L89.07,170.84 L89.35,170.84 L89.62,170.83 L89.89,170.82 L90.17,170.82 L90.44,170.81 L90.72,170.80 L90.99,170.80 L91.26,170.79 L91.54,170.78 L91.81,170.78 L92.08,170.77 L92.36,170.76 L92.63,170.75 L92.91,170.75 L93.18,170.74 L93.45,170.73 L93.73,170.72 L94.00,170.71 L94.28,170.70 L94.55,170.70 L94.82,170.69 L95.10,170.68 L95.37,170.67 L95.65,170.66 L95.92,170.65 L96.19,170.64 L96.47,170.63 L96.74,170.62 L97.01,170.61 L97.29,170.60 L97.56,170.59 L97.84,170.58 L98.11,170.57 L98.38,170.56 L98.66,170.55 L98.93,170.54 L99.21,170.53 L99.48,170.52 L99.75,170.51 L100.03,170.49 L100.30,170.48 L100.58,170.47 L100.85,170.46 L101.12,170.45 L101.40,170.43 L101.67,170.42 L101.94,170.41 L102.22,170.39 L102.49,170.38 L102.77,170.37 L103.04,170.36 L103.31,170.34 L103.59,170.33 L103.86,170.32 L104.14,170.31 L104.41,170.29 L104.68,170.28 L104.96,170.27 L105.23,170.26 L105.51,170.24 L105.78,170.23 L106.05,170.22 L106.33,170.21 L106.60,170.20 L106.87,170.19 L107.15,170.18 L107.42,170.17 L107.70,170.16 L107.97,170.15 L108.24,170.14 L108.52,170.14 L108.79,170.13 L109.07,170.12 L109.34,170.11 L109.61,170.11 L109.89,170.10 L110.16,170.10 L110.44,170.09 L110.71,170.09 L110.98,170.09 L111.26,170.09 L111.53,170.09 L111.80,170.08 L112.08,170.08 L112.35,170.09 L112.63,170.09 L112.90,170.09 L113.17,170.09 L113.45,170.10 L113.72,170.10 L114.00,170.10 L114.27,170.11 L114.54,170.12 L114.82,170.12 L115.09,170.13 L115.37,170.14 L115.64,170.15 L115.91,170.16 L116.19,170.17 L116.46,170.18 L116.73,170.19 L117.01,170.20 L117.28,170.22 L117.56,170.23 L117.83,170.24 L118.10,170.26 L118.38,170.27 L118.65,170.29 L118.93,170.31 L119.20,170.33 L119.47,170.34 L119.75,170.36 L120.02,170.38 L120.30,170.40 L120.57,170.43 L120.84,170.45 L121.12,170.47 L121.39,170.49 L121.66,170.52 L121.94,170.54 L122.21,170.57 L122.49,170.60 L122.76,170.63 L123.03,170.66 L123.31,170.69 L123.58,170.72 L123.86,170.76 L124.13,170.80 L124.40,170.84 L124.68,170.88 L124.95,170.93 L125.23,170.98 L125.50,171.03 L125.77,171.08 L126.05,171.14 L126.32,171.20 L126.59,171.27 L126.87,171.33 L127.14,171.41 L127.42,171.48 L127.69,171.56 L127.96,171.65 L128.24,171.74 L128.51,171.83 L128.79,171.92 L129.06,172.02 L129.33,172.13 L129.61,172.23 L129.88,172.34 L130.16,172.45 L130.43,172.57 L130.70,172.69 L130.98,172.81 L131.25,172.93 L131.52,173.05 L131.80,173.18 L132.07,173.30 L132.35,173.43 L132.62,173.56 L132.89,173.69 L133.17,173.82 L133.44,173.95 L133.72,174.09 L133.99,174.22 L134.26,174.36 L134.54,174.49 L134.81,174.63 L135.09,174.77 L135.36,174.91 L135.63,175.05 L135.91,175.20 L136.18,175.34 L136.45,175.48 L136.73,175.63 L137.00,175.78 L137.28,175.93 L137.55,176.08 L137.82,176.23 L138.10,176.38 L138.37,176.53 L138.65,176.68 L138.92,176.84 L139.19,177.00 L139.47,177.16 L139.74,177.32 L140.02,177.48 L140.29,177.64 L140.56,177.81 L140.84,177.98 L141.11,178.14 L141.38,178.32 L141.66,178.49 L141.93,178.67 L142.21,178.84 L142.48,179.03 L142.75,179.21 L143.03,179.39 L143.30,179.58 L143.58,179.77 L143.85,179.97 L144.12,180.17 L144.40,180.37 L144.67,180.58 L144.95,180.79 L145.22,181.01 L145.49,181.24 L145.77,181.47 L146.04,181.70 L146.31,181.95 L146.59,182.20 L146.86,182.45 L147.14,182.72 L147.41,182.99 L147.68,183.27 L147.96,183.56 L148.23,183.86 L148.51,184.16 L148.78,184.47 L149.05,184.78 L149.33,185.09 L149.60,185.41 L149.88,185.73 L150.15,186.04 L150.42,186.36 L150.70,186.67 L150.97,186.98 L151.24,187.28 L151.52,187.58 L151.79,187.87 L152.07,188.15 L152.34,188.43 L152.61,188.69 L152.89,188.94 L153.16,189.18 L153.44,189.42 L153.71,189.64 L153.98,189.85 L154.26,190.05 L154.53,190.25 L154.81,190.43 L155.08,190.61 L155.35,190.77 L155.63,190.92 L155.90,191.06 L156.17,191.18 L156.45,191.29 L156.72,191.38 L157.00,191.45 L157.27,191.49 L157.54,191.52 L157.82,191.51 L158.09,191.49 L158.37,191.44 L158.64,191.36 L158.91,191.26 L159.19,191.13 L159.46,190.98 L159.74,190.80 L160.01,190.60 L160.28,190.37 L160.56,190.11 L160.83,189.83 L161.10,189.51 L161.38,189.17 L161.65,188.80 L161.93,188.39 L162.20,187.95 L162.47,187.48 L162.75,186.97 L163.02,186.44 L163.30,185.87 L163.57,185.28 L163.84,184.65 L164.12,184.01 L164.39,183.34 L164.67,182.64 L164.94,181.93 L165.21,181.19 L165.49,180.43 L165.76,179.64 L166.03,178.84 L166.31,178.01 L166.58,177.16 L166.86,176.30 L167.13,175.41 L167.40,174.50 L167.68,173.59 L167.95,172.66 L168.23,171.74 L168.50,170.82 L168.77,169.92 L169.05,169.02 L169.32,168.15 L169.60,167.30 L169.87,166.48 L170.14,165.70 L170.42,164.96 L170.69,164.27 L170.96,163.62 L171.24,163.02 L171.51,162.47 L171.79,161.95 L172.06,161.46 L172.33,161.00 L172.61,160.57 L172.88,160.16 L173.16,159.77 L173.43,159.40 L173.70,159.05 L173.98,158.71 L174.25,158.40 L174.53,158.10 L174.80,157.82 L175.07,157.56 L175.35,157.31 L175.62,157.09 L175.89,156.88 L176.17,156.69 L176.44,156.51 L176.72,156.35 L176.99,156.20 L177.26,156.05 L177.54,155.92 L177.81,155.79 L178.09,155.67 L178.36,155.56 L178.63,155.45 L178.91,155.35 L179.18,155.26 L179.46,155.17 L179.73,155.09 L180.00,155.01 L180.28,154.93 L180.55,154.87 L180.82,154.80 L181.10,154.74 L181.37,154.69 L181.65,154.63 L181.92,154.59 L182.19,154.54 L182.47,154.50 L182.74,154.46 L183.02,154.43 L183.29,154.40 L183.56,154.37 L183.84,154.34 L184.11,154.32 L184.39,154.30 L184.66,154.28 L184.93,154.27 L185.21,154.26 L185.48,154.25 L185.75,154.24 L186.03,154.23 L186.30,154.23 L186.58,154.23 L186.85,154.23 L187.12,154.23 L187.40,154.23 L187.67,154.23 L187.95,154.24 L188.22,154.25 L188.49,154.26 L188.77,154.27 L189.04,154.28 L189.32,154.30 L189.59,154.32 L189.86,154.34 L190.14,154.37 L190.41,154.40 L190.68,154.43 L190.96,154.46 L191.23,154.50 L191.51,154.54 L191.78,154.59 L192.05,154.63 L192.33,154.69 L192.60,154.74 L192.88,154.80 L193.15,154.87 L193.42,154.93 L193.70,155.01 L193.97,155.09 L194.25,155.17 L194.52,155.26 L194.79,155.35 L195.07,155.45 L195.34,155.56 L195.61,155.67 L195.89,155.79 L196.16,155.92 L196.44,156.05 L196.71,156.20 L196.98,156.35 L197.26,156.51 L197.53,156.69 L197.81,156.88 L198.08,157.09 L198.35,157.31 L198.63,157.56 L198.90,157.82 L199.18,158.10 L199.45,158.40 L199.72,158.71 L200.00,159.05 L200.27,159.40 L200.54,159.77 L200.82,160.16 L201.09,160.57 L201.37,161.00 L201.64,161.46 L201.91,161.95 L202.19,162.47 L202.46,163.02 L202.74,163.62 L203.01,164.27 L203.28,164.96 L203.56,165.70 L203.83,166.48 L204.11,167.30 L204.38,168.15 L204.65,169.02 L204.93,169.92 L205.20,170.82 L205.47,171.74 L205.75,172.66 L206.02,173.59 L206.30,174.50 L206.57,175.41 L206.84,176.30 L207.12,177.16 L207.39,178.01 L207.67,178.84 L207.94,179.64 L208.21,180.43 L208.49,181.19 L208.76,181.93 L209.04,182.64 L209.31,183.34 L209.58,184.01 L209.86,184.65 L210.13,185.28 L210.40,185.87 L210.68,186.44 L210.95,186.97 L211.23,187.48 L211.50,187.95 L211.77,188.39 L212.05,188.80 L212.32,189.17 L212.60,189.51 L212.87,189.83 L213.14,190.11 L213.42,190.37 L213.69,190.60 L213.97,190.80 L214.24,190.98 L214.51,191.13 L214.79,191.26 L215.06,191.36 L215.33,191.44 L215.61,191.49 L215.88,191.51 L216.16,191.52 L216.43,191.49 L216.70,191.45 L216.98,191.38 L217.25,191.29 L217.53,191.18 L217.80,191.06 L218.07,190.92 L218.35,190.77 L218.62,190.61 L218.90,190.43 L219.17,190.25 L219.44,190.05 L219.72,189.85 L219.99,189.64 L220.26,189.42 L220.54,189.18 L220.81,188.94 L221.09,188.69 L221.36,188.43 L221.63,188.15 L221.91,187.87 L222.18,187.58 L222.46,187.28 L222.73,186.98 L223.00,186.67 L223.28,186.36 L223.55,186.04 L223.83,185.73 L224.10,185.41 L224.37,185.09 L224.65,184.78 L224.92,184.47 L225.19,184.16 L225.47,183.86 L225.74,183.56 L226.02,183.27 L226.29,182.99 L226.56,182.72 L226.84,182.45 L227.11,182.20 L227.39,181.95 L227.66,181.70 L227.93,181.47 L228.21,181.24 L228.48,181.01 L228.76,180.79 L229.03,180.58 L229.30,180.37 L229.58,180.17 L229.85,179.97 L230.12,179.77 L230.40,179.58 L230.67,179.39 L230.95,179.21 L231.22,179.03 L231.49,178.84 L231.77,178.67 L232.04,178.49 L232.32,178.32 L232.59,178.14 L232.86,177.98 L233.14,177.81 L233.41,177.64 L233.69,177.48 L233.96,177.32 L234.23,177.16 L234.51,177.00 L234.78,176.84 L235.05,176.68 L235.33,176.53 L235.60,176.38 L235.88,176.23 L236.15,176.08 L236.42,175.93 L236.70,175.78 L236.97,175.63 L237.25,175.48 L237.52,175.34 L237.79,175.20 L238.07,175.05 L238.34,174.91 L238.62,174.77 L238.89,174.63 L239.16,174.49 L239.44,174.36 L239.71,174.22 L239.98,174.09 L240.26,173.95 L240.53,173.82 L240.81,173.69 L241.08,173.56 L241.35,173.43 L241.63,173.30 L241.90,173.18 L242.18,173.05 L242.45,172.93 L242.72,172.81 L243.00,172.69 L243.27,172.57 L243.55,172.45 L243.82,172.34 L244.09,172.23 L244.37,172.13 L244.64,172.02 L244.91,171.92 L245.19,171.83 L245.46,171.74 L245.74,171.65 L246.01,171.56 L246.28,171.48 L246.56,171.41 L246.83,171.33 L247.11,171.27 L247.38,171.20 L247.65,171.14 L247.93,171.08 L248.20,171.03 L248.48,170.98 L248.75,170.93 L249.02,170.88 L249.30,170.84 L249.57,170.80 L249.84,170.76 L250.12,170.72 L250.39,170.69 L250.67,170.66 L250.94,170.63 L251.21,170.60 L251.49,170.57 L251.76,170.54 L252.04,170.52 L252.31,170.49 L252.58,170.47 L252.86,170.45 L253.13,170.43 L253.41,170.40 L253.68,170.38 L253.95,170.36 L254.23,170.34 L254.50,170.33 L254.77,170.31 L255.05,170.29 L255.32,170.27 L255.60,170.26 L255.87,170.24 L256.14,170.23 L256.42,170.22 L256.69,170.20 L256.97,170.19 L257.24,170.18 L257.51,170.17 L257.79,170.16 L258.06,170.15 L258.34,170.14 L258.61,170.13 L258.88,170.12 L259.16,170.12 L259.43,170.11 L259.70,170.10 L259.98,170.10 L260.25,170.10 L260.53,170.09 L260.80,170.09 L261.07,170.09 L261.35,170.09 L261.62,170.08 L261.90,170.08 L262.17,170.09 L262.44,170.09 L262.72,170.09 L262.99,170.09 L263.27,170.09 L263.54,170.10 L263.81,170.10 L264.09,170.11 L264.36,170.11 L264.63,170.12 L264.91,170.13 L265.18,170.14 L265.46,170.14 L265.73,170.15 L266.00,170.16 L266.28,170.17 L266.55,170.18 L266.83,170.19 L267.10,170.20 L267.37,170.21 L267.65,170.22 L267.92,170.23 L268.20,170.24 L268.47,170.26 L268.74,170.27 L269.02,170.28 L269.29,170.29 L269.56,170.31 L269.84,170.32 L270.11,170.33 L270.39,170.34 L270.66,170.36 L270.93,170.37 L271.21,170.38 L271.48,170.39 L271.76,170.41 L272.03,170.42 L272.30,170.43 L272.58,170.45 L272.85,170.46 L273.13,170.47 L273.40,170.48 L273.67,170.49 L273.95,170.51 L274.22,170.52 L274.49,170.53 L274.77,170.54 L275.04,170.55 L275.32,170.56 L275.59,170.57 L275.86,170.58 L276.14,170.59 L276.41,170.60 L276.69,170.61 L276.96,170.62 L277.23,170.63 L277.51,170.64 L277.78,170.65 L278.06,170.66 L278.33,170.67 L278.60,170.68 L278.88,170.69 L279.15,170.70 L279.42,170.70 L279.70,170.71 L279.97,170.72 L280.25,170.73 L280.52,170.74 L280.79,170.75 L281.07,170.75 L281.34,170.76 L281.62,170.77 L281.89,170.78 L282.16,170.78 L282.44,170.79 L282.71,170.80 L282.99,170.80 L283.26,170.81 L283.53,170.82 L283.81,170.82 L284.08,170.83 L284.35,170.84 L284.63,170.84 L284.90,170.85 L285.18,170.86 L285.45,170.86 L285.72,170.87 L286.00,170.87 L286.27,170.88 L286.55,170.89 L286.82,170.89 L287.09,170.90 L287.37,170.90 L287.64,170.91 L287.92,170.91 L288.19,170.92 L288.46,170.92 L288.74,170.93 L289.01,170.93 L289.28,170.94 L289.56,170.94 L289.83,170.95 L290.11,170.95 L290.38,170.96 L290.65,170.96 L290.93,170.97 L291.20,170.97 L291.48,170.98 L291.75,170.98 L292.02,170.99 L292.30,170.99 L292.57,171.00 L292.85,171.00 L293.12,171.01 L293.39,171.01 L293.67,171.02 L293.94,171.02 L294.21,171.02 L294.49,171.03 L294.76,171.03 L295.04,171.04 L295.31,171.04 L295.58,171.05 L295.86,171.05 L296.13,171.06 L296.41,171.06 L296.68,171.06 L296.95,171.07 L297.23,171.07 L297.50,171.08 L297.78,171.08 L298.05,171.09 L298.32,171.09 L298.60,171.09 L298.87,171.10 L299.14,171.10 L299.42,171.11 L299.69,171.11 L299.97,171.12 L300.24,171.12 L300.51,171.13 L300.79,171.13 L301.06,171.14 L301.34,171.14 L301.61,171.15 L301.88,171.15 L302.16,171.15 L302.43,171.16 L302.71,171.16 L302.98,171.17 L303.25,171.17 L303.53,171.18 L303.80,171.19 L304.07,171.19 L304.35,171.20 L304.62,171.20 L304.90,171.21 L305.17,171.21 L305.44,171.22 L305.72,171.22 L305.99,171.23 L306.27,171.23 L306.54,171.24 L306.81,171.25 L307.09,171.25 L307.36,171.26 L307.64,171.26 L307.91,171.27 L308.18,171.28 L308.46,171.28 L308.73,171.29 L309.00,171.30 L309.28,171.30 L309.55,171.31 L309.83,171.32 L310.10,171.33" stroke="#008000" stroke-width="2.9" stroke-dasharray="12.5 2.5 5 2.5"/>
</g>
<path d="M63.60,219.3 v-6.0 M63.60,29.3 v6.0 M73.87,219.3 v-3.8 M73.87,29.3 v3.8 M84.14,219.3 v-3.8 M84.14,29.3 v3.8 M94.41,219.3 v-3.8 M94.41,29.3 v3.8 M104.68,219.3 v-6.0 M104.68,29.3 v6.0 M114.95,219.3 v-3.8 M114.95,29.3 v3.8 M125.23,219.3 v-3.8 M125.23,29.3 v3.8 M135.50,219.3 v-3.8 M135.50,29.3 v3.8 M145.77,219.3 v-6.0 M145.77,29.3 v6.0 M156.04,219.3 v-3.8 M156.04,29.3 v3.8 M166.31,219.3 v-3.8 M166.31,29.3 v3.8 M176.58,219.3 v-3.8 M176.58,29.3 v3.8 M186.85,219.3 v-6.0 M186.85,29.3 v6.0 M197.12,219.3 v-3.8 M197.12,29.3 v3.8 M207.39,219.3 v-3.8 M207.39,29.3 v3.8 M217.66,219.3 v-3.8 M217.66,29.3 v3.8 M227.93,219.3 v-6.0 M227.93,29.3 v6.0 M238.20,219.3 v-3.8 M238.20,29.3 v3.8 M248.48,219.3 v-3.8 M248.48,29.3 v3.8 M258.75,219.3 v-3.8 M258.75,29.3 v3.8 M269.02,219.3 v-6.0 M269.02,29.3 v6.0 M279.29,219.3 v-3.8 M279.29,29.3 v3.8 M289.56,219.3 v-3.8 M289.56,29.3 v3.8 M299.83,219.3 v-3.8 M299.83,29.3 v3.8 M310.10,219.3 v-6.0 M310.10,29.3 v6.0 M63.6,219.30 h6.0 M310.1,219.30 h-6.0 M63.6,209.80 h3.8 M310.1,209.80 h-3.8 M63.6,200.30 h3.8 M310.1,200.30 h-3.8 M63.6,190.80 h3.8 M310.1,190.80 h-3.8 M63.6,181.30 h3.8 M310.1,181.30 h-3.8 M63.6,171.80 h6.0 M310.1,171.80 h-6.0 M63.6,162.30 h3.8 M310.1,162.30 h-3.8 M63.6,152.80 h3.8 M310.1,152.80 h-3.8 M63.6,143.30 h3.8 M310.1,143.30 h-3.8 M63.6,133.80 h3.8 M310.1,133.80 h-3.8 M63.6,124.30 h6.0 M310.1,124.30 h-6.0 M63.6,114.80 h3.8 M310.1,114.80 h-3.8 M63.6,105.30 h3.8 M310.1,105.30 h-3.8 M63.6,95.80 h3.8 M310.1,95.80 h-3.8 M63.6,86.30 h3.8 M310.1,86.30 h-3.8 M63.6,76.80 h6.0 M310.1,76.80 h-6.0 M63.6,67.30 h3.8 M310.1,67.30 h-3.8 M63.6,57.80 h3.8 M310.1,57.80 h-3.8 M63.6,48.30 h3.8 M310.1,48.30 h-3.8 M63.6,38.80 h3.8 M310.1,38.80 h-3.8 M63.6,29.30 h6.0 M310.1,29.30 h-6.0" stroke="#4c4c4c" stroke-width="0.9" fill="none"/>
<rect x="63.6" y="29.3" width="246.50" height="190.00" fill="none" stroke="#4c4c4c" stroke-width="0.95"/>
<rect x="50.56" y="230.78" width="6.70" height="1.45" fill="#4d4d4d"/>
<text transform="translate(58.26,235.10) scale(1.12,1)" font-size="10.8" font-weight="bold" fill="#4d4d4d" text-anchor="start">600</text>
<rect x="91.65" y="230.78" width="6.70" height="1.45" fill="#4d4d4d"/>
<text transform="translate(99.35,235.10) scale(1.12,1)" font-size="10.8" font-weight="bold" fill="#4d4d4d" text-anchor="start">400</text>
<rect x="132.73" y="230.78" width="6.70" height="1.45" fill="#4d4d4d"/>
<text transform="translate(140.43,235.10) scale(1.12,1)" font-size="10.8" font-weight="bold" fill="#4d4d4d" text-anchor="start">200</text>
<text transform="translate(183.89,235.10) scale(1.12,1)" font-size="10.8" font-weight="bold" fill="#4d4d4d" text-anchor="start">0</text>
<text transform="translate(218.25,235.10) scale(1.12,1)" font-size="10.8" font-weight="bold" fill="#4d4d4d" text-anchor="start">200</text>
<text transform="translate(259.33,235.10) scale(1.12,1)" font-size="10.8" font-weight="bold" fill="#4d4d4d" text-anchor="start">400</text>
<text transform="translate(300.41,235.10) scale(1.12,1)" font-size="10.8" font-weight="bold" fill="#4d4d4d" text-anchor="start">600</text>
<text transform="translate(46.85,223.20) scale(1.12,1)" font-size="10.8" font-weight="bold" fill="#4d4d4d" text-anchor="start">10</text>
<rect x="39.15" y="218.93" width="6.70" height="1.45" fill="#4d4d4d"/>
<text transform="translate(53.57,175.70) scale(1.12,1)" font-size="10.8" font-weight="bold" fill="#4d4d4d" text-anchor="start">0</text>
<text transform="translate(46.85,128.20) scale(1.12,1)" font-size="10.8" font-weight="bold" fill="#4d4d4d" text-anchor="start">10</text>
<text transform="translate(46.85,80.70) scale(1.12,1)" font-size="10.8" font-weight="bold" fill="#4d4d4d" text-anchor="start">20</text>
<text transform="translate(46.85,33.20) scale(1.12,1)" font-size="10.8" font-weight="bold" fill="#4d4d4d" text-anchor="start">30</text>
<text transform="translate(31.4,121.7) rotate(-90) scale(1.21,1)" font-size="12" font-weight="bold" fill="#000" text-anchor="middle">Effective Potential (meV)</text>
<text transform="translate(185.00,255.00) scale(1.15,1)" font-size="12" font-weight="bold" fill="#000" text-anchor="middle">u(Å)</text>
<text transform="translate(76.80,191.00) scale(1.095,1)" font-size="8.9" font-weight="bold" fill="#000" text-anchor="start">R=70Å</text>
<text transform="translate(76.90,205.20) scale(1.04,1)" font-size="8.9" font-weight="bold" fill="#000" text-anchor="start">ν=1</text>
<path d="M82.6,73.4 H104.6" stroke="#000000" stroke-width="2.5" fill="none"/>
<text transform="translate(110.20,77.10) scale(1.097,1)" font-size="9.0" font-weight="bold" fill="#000" text-anchor="start">λ= -1000Å<tspan font-size="6.6" dy="-3.8">2</tspan></text>
<path d="M82.6,87.6 H104.6" stroke="#800080" stroke-width="2.5" fill="none" stroke-dasharray="4.1 2.0"/>
<text transform="translate(110.20,91.30) scale(1.097,1)" font-size="9.0" font-weight="bold" fill="#000" text-anchor="start">λ= -500Å<tspan font-size="6.6" dy="-3.8">2</tspan></text>
<path d="M82.6,101.9 H104.6" stroke="#ff0000" stroke-width="2.5" fill="none" stroke-dasharray="12.5 2.5"/>
<text transform="translate(110.20,105.60) scale(1.097,1)" font-size="9.0" font-weight="bold" fill="#000" text-anchor="start">λ= 0Å<tspan font-size="6.6" dy="-3.8">2</tspan></text>
<path d="M82.6,116.2 H104.6" stroke="#0000ff" stroke-width="2.5" fill="none" stroke-dasharray="12.5 2.5 5 2.5"/>
<text transform="translate(110.20,119.90) scale(1.097,1)" font-size="9.0" font-weight="bold" fill="#000" text-anchor="start">λ=10<tspan font-size="6.6" dy="-3.8">3</tspan><tspan dy="3.8">Å</tspan><tspan font-size="6.6" dy="-3.8">2</tspan></text>
<path d="M82.6,130.5 H104.6" stroke="#008000" stroke-width="2.5" fill="none" stroke-dasharray="12.5 2.5 5 2.5"/>
<text transform="translate(110.20,134.20) scale(1.097,1)" font-size="9.0" font-weight="bold" fill="#000" text-anchor="start">λ=10<tspan font-size="6.6" dy="-3.8">5</tspan><tspan dy="3.8">Å</tspan><tspan font-size="6.6" dy="-3.8">2</tspan></text>
<g fill="none" stroke="#000" stroke-width="2.9" stroke-linejoin="round">
<path d="M239.40,77.92 L239.56,77.92 L239.72,77.91 L239.88,77.90 L240.04,77.88 L240.20,77.87 L240.36,77.86 L240.52,77.84 L240.68,77.82 L240.84,77.80 L241.00,77.78 L241.16,77.76 L241.32,77.74 L241.48,77.72 L241.64,77.69 L241.80,77.66 L241.96,77.64 L242.12,77.61 L242.28,77.58 L242.44,77.55 L242.60,77.52 L242.76,77.49 L242.92,77.45 L243.08,77.42 L243.24,77.39 L243.40,77.35 L243.56,77.32 L243.72,77.28 L243.88,77.24 L244.04,77.21 L244.20,77.17 L244.36,77.13 L244.52,77.09 L244.68,77.05 L244.84,77.02 L245.00,76.98 L245.16,76.94 L245.32,76.90 L245.48,76.86 L245.64,76.82 L245.80,76.78 L245.96,76.74 L246.12,76.70 L246.28,76.66 L246.44,76.62 L246.60,76.58 L246.76,76.54 L246.92,76.50 L247.08,76.46 L247.24,76.42 L247.40,76.38 L247.56,76.35 L247.72,76.31 L247.88,76.27 L248.04,76.23 L248.20,76.20 L248.36,76.16 L248.52,76.13 L248.68,76.09 L248.84,76.06 L249.00,76.03 L249.16,76.00 L249.32,75.97 L249.48,75.94 L249.64,75.91 L249.80,75.88 L249.96,75.85 L250.12,75.83 L250.28,75.80 L250.44,75.78 L250.60,75.75 L250.76,75.73 L250.92,75.70 L251.08,75.68 L251.24,75.66 L251.40,75.64 L251.56,75.61 L251.72,75.59 L251.88,75.57 L252.04,75.54 L252.20,75.52 L252.36,75.50 L252.52,75.47 L252.68,75.45 L252.84,75.42 L253.00,75.40 L253.16,75.37 L253.32,75.34 L253.48,75.32 L253.64,75.29 L253.80,75.26 L253.96,75.23 L254.12,75.20 L254.28,75.17 L254.44,75.14 L254.60,75.11 L254.76,75.08 L254.92,75.06 L255.08,75.03 L255.24,75.01 L255.40,74.99 L255.56,74.98 L255.72,74.97 L255.88,74.96 L256.04,74.96 L256.20,74.96 L256.36,74.97 L256.52,74.98 L256.68,75.00 L256.84,75.03 L257.00,75.06 L257.16,75.10 L257.32,75.15 L257.48,75.20 L257.64,75.27 L257.80,75.35 L257.96,75.43 L258.12,75.53 L258.28,75.64 L258.44,75.76 L258.60,75.89 L258.76,76.03 L258.92,76.18 L259.08,76.34 L259.24,76.52 L259.40,76.70 L259.56,76.90 L259.72,77.11 L259.88,77.33 L260.04,77.56 L260.20,77.81 L260.36,78.06 L260.52,78.33 L260.68,78.62 L260.84,78.92 L261.00,79.24 L261.16,79.58 L261.32,79.93 L261.48,80.31 L261.64,80.70 L261.80,81.12 L261.96,81.56 L262.12,82.02 L262.28,82.51 L262.44,83.01 L262.60,83.53 L262.76,84.08 L262.92,84.64 L263.08,85.23 L263.24,85.83 L263.40,86.46 L263.56,87.10 L263.72,87.76 L263.88,88.44 L264.04,89.13 L264.20,89.84 L264.36,90.56 L264.52,91.30 L264.68,92.05 L264.84,92.82 L265.00,93.59 L265.16,94.37 L265.32,95.16 L265.48,95.96 L265.64,96.76 L265.80,97.57 L265.96,98.39 L266.12,99.20 L266.28,100.02 L266.44,100.84 L266.60,101.66 L266.76,102.47 L266.92,103.28 L267.08,104.09 L267.24,104.90 L267.40,105.69 L267.56,106.48 L267.72,107.26 L267.88,108.03 L268.04,108.79 L268.20,109.53 L268.36,110.26 L268.52,110.97 L268.68,111.66 L268.84,112.33 L269.00,112.98 L269.16,113.60 L269.32,114.20 L269.48,114.78 L269.64,115.32 L269.80,115.83 L269.96,116.31 L270.12,116.75 L270.28,117.15 L270.44,117.51 L270.60,117.82 L270.76,118.08 L270.92,118.29 L271.08,118.44 L271.24,118.54 L271.40,118.57 L271.56,118.54 L271.72,118.44 L271.88,118.29 L272.04,118.08 L272.20,117.82 L272.36,117.51 L272.52,117.15 L272.68,116.75 L272.84,116.31 L273.00,115.83 L273.16,115.32 L273.32,114.78 L273.48,114.20 L273.64,113.60 L273.80,112.98 L273.96,112.33 L274.12,111.66 L274.28,110.97 L274.44,110.26 L274.60,109.53 L274.76,108.79 L274.92,108.03 L275.08,107.26 L275.24,106.48 L275.40,105.69 L275.56,104.90 L275.72,104.09 L275.88,103.28 L276.04,102.47 L276.20,101.66 L276.36,100.84 L276.52,100.02 L276.68,99.20 L276.84,98.39 L277.00,97.57 L277.16,96.76 L277.32,95.96 L277.48,95.16 L277.64,94.37 L277.80,93.59 L277.96,92.82 L278.12,92.05 L278.28,91.30 L278.44,90.56 L278.60,89.84 L278.76,89.13 L278.92,88.44 L279.08,87.76 L279.24,87.10 L279.40,86.46 L279.56,85.83 L279.72,85.23 L279.88,84.64 L280.04,84.08 L280.20,83.53 L280.36,83.01 L280.52,82.51 L280.68,82.02 L280.84,81.56 L281.00,81.12 L281.16,80.70 L281.32,80.31 L281.48,79.93 L281.64,79.58 L281.80,79.24 L281.96,78.92 L282.12,78.62 L282.28,78.33 L282.44,78.06 L282.60,77.81 L282.76,77.56 L282.92,77.33 L283.08,77.11 L283.24,76.90 L283.40,76.70 L283.56,76.52 L283.72,76.34 L283.88,76.18 L284.04,76.03 L284.20,75.89 L284.36,75.76 L284.52,75.64 L284.68,75.53 L284.84,75.43 L285.00,75.35 L285.16,75.27 L285.32,75.20 L285.48,75.15 L285.64,75.10 L285.80,75.06 L285.96,75.03 L286.12,75.00 L286.28,74.98 L286.44,74.97 L286.60,74.96 L286.76,74.96 L286.92,74.96 L287.08,74.97 L287.24,74.98 L287.40,74.99 L287.56,75.01 L287.72,75.03 L287.88,75.06 L288.04,75.08 L288.20,75.11 L288.36,75.14 L288.52,75.17 L288.68,75.20 L288.84,75.23 L289.00,75.26 L289.16,75.29 L289.32,75.32 L289.48,75.34 L289.64,75.37 L289.80,75.40 L289.96,75.42 L290.12,75.45 L290.28,75.47 L290.44,75.50 L290.60,75.52 L290.76,75.54 L290.92,75.57 L291.08,75.59 L291.24,75.61 L291.40,75.64 L291.56,75.66 L291.72,75.68 L291.88,75.70 L292.04,75.73 L292.20,75.75 L292.36,75.78 L292.52,75.80 L292.68,75.83 L292.84,75.85 L293.00,75.88 L293.16,75.91 L293.32,75.94 L293.48,75.97 L293.64,76.00 L293.80,76.03 L293.96,76.06 L294.12,76.09 L294.28,76.13 L294.44,76.16 L294.60,76.20 L294.76,76.23 L294.92,76.27 L295.08,76.31 L295.24,76.35 L295.40,76.38 L295.56,76.42 L295.72,76.46 L295.88,76.50 L296.04,76.54 L296.20,76.58 L296.36,76.62 L296.52,76.66 L296.68,76.70 L296.84,76.74 L297.00,76.78 L297.16,76.82 L297.32,76.86 L297.48,76.90 L297.64,76.94 L297.80,76.98 L297.96,77.02 L298.12,77.05 L298.28,77.09 L298.44,77.13 L298.60,77.17 L298.76,77.21 L298.92,77.24 L299.08,77.28 L299.24,77.32 L299.40,77.35 L299.56,77.39 L299.72,77.42 L299.88,77.45 L300.04,77.49 L300.20,77.52 L300.36,77.55 L300.52,77.58 L300.68,77.61 L300.84,77.64 L301.00,77.66 L301.16,77.69 L301.32,77.72 L301.48,77.74 L301.64,77.76 L301.80,77.78 L301.96,77.80 L302.12,77.82 L302.28,77.84 L302.44,77.86 L302.60,77.87 L302.76,77.88 L302.92,77.90 L303.08,77.91 L303.24,77.92 L303.40,77.92" stroke-dasharray="13.5 2.3"/>
<path d="M239.40,78.28 L239.56,78.28 L239.72,78.29 L239.88,78.29 L240.04,78.30 L240.20,78.30 L240.36,78.30 L240.52,78.30 L240.68,78.30 L240.84,78.29 L241.00,78.29 L241.16,78.29 L241.32,78.28 L241.48,78.27 L241.64,78.27 L241.80,78.26 L241.96,78.25 L242.12,78.24 L242.28,78.23 L242.44,78.22 L242.60,78.21 L242.76,78.20 L242.92,78.19 L243.08,78.17 L243.24,78.16 L243.40,78.15 L243.56,78.13 L243.72,78.12 L243.88,78.10 L244.04,78.09 L244.20,78.07 L244.36,78.06 L244.52,78.04 L244.68,78.02 L244.84,78.01 L245.00,77.99 L245.16,77.98 L245.32,77.96 L245.48,77.94 L245.64,77.93 L245.80,77.91 L245.96,77.89 L246.12,77.88 L246.28,77.86 L246.44,77.85 L246.60,77.83 L246.76,77.82 L246.92,77.80 L247.08,77.79 L247.24,77.77 L247.40,77.76 L247.56,77.74 L247.72,77.73 L247.88,77.72 L248.04,77.71 L248.20,77.70 L248.36,77.69 L248.52,77.68 L248.68,77.67 L248.84,77.66 L249.00,77.65 L249.16,77.64 L249.32,77.64 L249.48,77.63 L249.64,77.63 L249.80,77.62 L249.96,77.62 L250.12,77.62 L250.28,77.62 L250.44,77.61 L250.60,77.62 L250.76,77.62 L250.92,77.62 L251.08,77.62 L251.24,77.63 L251.40,77.64 L251.56,77.64 L251.72,77.65 L251.88,77.66 L252.04,77.67 L252.20,77.69 L252.36,77.70 L252.52,77.71 L252.68,77.73 L252.84,77.75 L253.00,77.77 L253.16,77.79 L253.32,77.81 L253.48,77.84 L253.64,77.86 L253.80,77.89 L253.96,77.92 L254.12,77.95 L254.28,77.99 L254.44,78.02 L254.60,78.06 L254.76,78.10 L254.92,78.14 L255.08,78.18 L255.24,78.23 L255.40,78.28 L255.56,78.33 L255.72,78.38 L255.88,78.44 L256.04,78.49 L256.20,78.55 L256.36,78.62 L256.52,78.68 L256.68,78.75 L256.84,78.82 L257.00,78.89 L257.16,78.96 L257.32,79.03 L257.48,79.11 L257.64,79.19 L257.80,79.27 L257.96,79.35 L258.12,79.44 L258.28,79.52 L258.44,79.61 L258.60,79.70 L258.76,79.79 L258.92,79.89 L259.08,79.98 L259.24,80.08 L259.40,80.18 L259.56,80.28 L259.72,80.38 L259.88,80.48 L260.04,80.59 L260.20,80.69 L260.36,80.80 L260.52,80.91 L260.68,81.02 L260.84,81.13 L261.00,81.24 L261.16,81.36 L261.32,81.47 L261.48,81.59 L261.64,81.71 L261.80,81.83 L261.96,81.95 L262.12,82.07 L262.28,82.19 L262.44,82.31 L262.60,82.43 L262.76,82.55 L262.92,82.67 L263.08,82.79 L263.24,82.91 L263.40,83.02 L263.56,83.14 L263.72,83.25 L263.88,83.37 L264.04,83.48 L264.20,83.59 L264.36,83.70 L264.52,83.81 L264.68,83.91 L264.84,84.01 L265.00,84.11 L265.16,84.21 L265.32,84.31 L265.48,84.40 L265.64,84.48 L265.80,84.57 L265.96,84.65 L266.12,84.72 L266.28,84.80 L266.44,84.86 L266.60,84.93 L266.76,84.99 L266.92,85.04 L267.08,85.10 L267.24,85.15 L267.40,85.19 L267.56,85.24 L267.72,85.28 L267.88,85.32 L268.04,85.35 L268.20,85.39 L268.36,85.42 L268.52,85.45 L268.68,85.48 L268.84,85.51 L269.00,85.53 L269.16,85.56 L269.32,85.58 L269.48,85.60 L269.64,85.63 L269.80,85.64 L269.96,85.66 L270.12,85.68 L270.28,85.69 L270.44,85.71 L270.60,85.72 L270.76,85.73 L270.92,85.73 L271.08,85.74 L271.24,85.74 L271.40,85.74 L271.56,85.74 L271.72,85.74 L271.88,85.73 L272.04,85.73 L272.20,85.72 L272.36,85.71 L272.52,85.69 L272.68,85.68 L272.84,85.66 L273.00,85.64 L273.16,85.63 L273.32,85.60 L273.48,85.58 L273.64,85.56 L273.80,85.53 L273.96,85.51 L274.12,85.48 L274.28,85.45 L274.44,85.42 L274.60,85.39 L274.76,85.35 L274.92,85.32 L275.08,85.28 L275.24,85.24 L275.40,85.19 L275.56,85.15 L275.72,85.10 L275.88,85.04 L276.04,84.99 L276.20,84.93 L276.36,84.86 L276.52,84.80 L276.68,84.72 L276.84,84.65 L277.00,84.57 L277.16,84.48 L277.32,84.40 L277.48,84.31 L277.64,84.21 L277.80,84.11 L277.96,84.01 L278.12,83.91 L278.28,83.81 L278.44,83.70 L278.60,83.59 L278.76,83.48 L278.92,83.37 L279.08,83.25 L279.24,83.14 L279.40,83.02 L279.56,82.91 L279.72,82.79 L279.88,82.67 L280.04,82.55 L280.20,82.43 L280.36,82.31 L280.52,82.19 L280.68,82.07 L280.84,81.95 L281.00,81.83 L281.16,81.71 L281.32,81.59 L281.48,81.47 L281.64,81.36 L281.80,81.24 L281.96,81.13 L282.12,81.02 L282.28,80.91 L282.44,80.80 L282.60,80.69 L282.76,80.59 L282.92,80.48 L283.08,80.38 L283.24,80.28 L283.40,80.18 L283.56,80.08 L283.72,79.98 L283.88,79.89 L284.04,79.79 L284.20,79.70 L284.36,79.61 L284.52,79.52 L284.68,79.44 L284.84,79.35 L285.00,79.27 L285.16,79.19 L285.32,79.11 L285.48,79.03 L285.64,78.96 L285.80,78.89 L285.96,78.82 L286.12,78.75 L286.28,78.68 L286.44,78.62 L286.60,78.55 L286.76,78.49 L286.92,78.44 L287.08,78.38 L287.24,78.33 L287.40,78.28 L287.56,78.23 L287.72,78.18 L287.88,78.14 L288.04,78.10 L288.20,78.06 L288.36,78.02 L288.52,77.99 L288.68,77.95 L288.84,77.92 L289.00,77.89 L289.16,77.86 L289.32,77.84 L289.48,77.81 L289.64,77.79 L289.80,77.77 L289.96,77.75 L290.12,77.73 L290.28,77.71 L290.44,77.70 L290.60,77.69 L290.76,77.67 L290.92,77.66 L291.08,77.65 L291.24,77.64 L291.40,77.64 L291.56,77.63 L291.72,77.62 L291.88,77.62 L292.04,77.62 L292.20,77.62 L292.36,77.61 L292.52,77.62 L292.68,77.62 L292.84,77.62 L293.00,77.62 L293.16,77.63 L293.32,77.63 L293.48,77.64 L293.64,77.64 L293.80,77.65 L293.96,77.66 L294.12,77.67 L294.28,77.68 L294.44,77.69 L294.60,77.70 L294.76,77.71 L294.92,77.72 L295.08,77.73 L295.24,77.74 L295.40,77.76 L295.56,77.77 L295.72,77.79 L295.88,77.80 L296.04,77.82 L296.20,77.83 L296.36,77.85 L296.52,77.86 L296.68,77.88 L296.84,77.89 L297.00,77.91 L297.16,77.93 L297.32,77.94 L297.48,77.96 L297.64,77.98 L297.80,77.99 L297.96,78.01 L298.12,78.02 L298.28,78.04 L298.44,78.06 L298.60,78.07 L298.76,78.09 L298.92,78.10 L299.08,78.12 L299.24,78.13 L299.40,78.15 L299.56,78.16 L299.72,78.17 L299.88,78.19 L300.04,78.20 L300.20,78.21 L300.36,78.22 L300.52,78.23 L300.68,78.24 L300.84,78.25 L301.00,78.26 L301.16,78.27 L301.32,78.27 L301.48,78.28 L301.64,78.29 L301.80,78.29 L301.96,78.29 L302.12,78.30 L302.28,78.30 L302.44,78.30 L302.60,78.30 L302.76,78.30 L302.92,78.29 L303.08,78.29 L303.24,78.28 L303.40,78.28" stroke-dasharray="4.5 2.0"/>
<path d="M239.40,78.52 L239.56,78.52 L239.72,78.53 L239.88,78.53 L240.04,78.54 L240.20,78.54 L240.36,78.55 L240.52,78.55 L240.68,78.55 L240.84,78.56 L241.00,78.56 L241.16,78.57 L241.32,78.57 L241.48,78.57 L241.64,78.58 L241.80,78.58 L241.96,78.58 L242.12,78.59 L242.28,78.59 L242.44,78.59 L242.60,78.59 L242.76,78.60 L242.92,78.60 L243.08,78.60 L243.24,78.60 L243.40,78.61 L243.56,78.61 L243.72,78.61 L243.88,78.61 L244.04,78.61 L244.20,78.62 L244.36,78.62 L244.52,78.62 L244.68,78.62 L244.84,78.62 L245.00,78.62 L245.16,78.63 L245.32,78.63 L245.48,78.63 L245.64,78.63 L245.80,78.63 L245.96,78.64 L246.12,78.64 L246.28,78.64 L246.44,78.64 L246.60,78.64 L246.76,78.65 L246.92,78.65 L247.08,78.65 L247.24,78.65 L247.40,78.65 L247.56,78.66 L247.72,78.66 L247.88,78.66 L248.04,78.67 L248.20,78.67 L248.36,78.67 L248.52,78.67 L248.68,78.68 L248.84,78.68 L249.00,78.68 L249.16,78.69 L249.32,78.69 L249.48,78.70 L249.64,78.70 L249.80,78.71 L249.96,78.71 L250.12,78.72 L250.28,78.72 L250.44,78.73 L250.60,78.73 L250.76,78.74 L250.92,78.74 L251.08,78.75 L251.24,78.76 L251.40,78.76 L251.56,78.77 L251.72,78.78 L251.88,78.78 L252.04,78.79 L252.20,78.80 L252.36,78.81 L252.52,78.82 L252.68,78.83 L252.84,78.83 L253.00,78.84 L253.16,78.85 L253.32,78.86 L253.48,78.87 L253.64,78.89 L253.80,78.90 L253.96,78.91 L254.12,78.92 L254.28,78.93 L254.44,78.95 L254.60,78.96 L254.76,78.98 L254.92,78.99 L255.08,79.01 L255.24,79.02 L255.40,79.04 L255.56,79.05 L255.72,79.07 L255.88,79.09 L256.04,79.11 L256.20,79.13 L256.36,79.15 L256.52,79.17 L256.68,79.19 L256.84,79.21 L257.00,79.23 L257.16,79.25 L257.32,79.28 L257.48,79.30 L257.64,79.32 L257.80,79.35 L257.96,79.37 L258.12,79.40 L258.28,79.42 L258.44,79.45 L258.60,79.48 L258.76,79.50 L258.92,79.53 L259.08,79.56 L259.24,79.58 L259.40,79.61 L259.56,79.64 L259.72,79.67 L259.88,79.70 L260.04,79.73 L260.20,79.76 L260.36,79.79 L260.52,79.82 L260.68,79.85 L260.84,79.88 L261.00,79.91 L261.16,79.94 L261.32,79.97 L261.48,80.00 L261.64,80.03 L261.80,80.06 L261.96,80.09 L262.12,80.12 L262.28,80.15 L262.44,80.18 L262.60,80.21 L262.76,80.24 L262.92,80.27 L263.08,80.30 L263.24,80.33 L263.40,80.36 L263.56,80.38 L263.72,80.41 L263.88,80.44 L264.04,80.46 L264.20,80.49 L264.36,80.51 L264.52,80.54 L264.68,80.56 L264.84,80.59 L265.00,80.61 L265.16,80.63 L265.32,80.65 L265.48,80.67 L265.64,80.69 L265.80,80.71 L265.96,80.73 L266.12,80.75 L266.28,80.77 L266.44,80.78 L266.60,80.80 L266.76,80.82 L266.92,80.83 L267.08,80.85 L267.24,80.86 L267.40,80.87 L267.56,80.89 L267.72,80.90 L267.88,80.91 L268.04,80.92 L268.20,80.93 L268.36,80.94 L268.52,80.94 L268.68,80.95 L268.84,80.96 L269.00,80.96 L269.16,80.97 L269.32,80.98 L269.48,80.98 L269.64,80.98 L269.80,80.99 L269.96,80.99 L270.12,80.99 L270.28,81.00 L270.44,81.00 L270.60,81.00 L270.76,81.00 L270.92,81.00 L271.08,81.00 L271.24,81.00 L271.40,81.00 L271.56,81.00 L271.72,81.00 L271.88,81.00 L272.04,81.00 L272.20,81.00 L272.36,81.00 L272.52,81.00 L272.68,80.99 L272.84,80.99 L273.00,80.99 L273.16,80.98 L273.32,80.98 L273.48,80.98 L273.64,80.97 L273.80,80.96 L273.96,80.96 L274.12,80.95 L274.28,80.94 L274.44,80.94 L274.60,80.93 L274.76,80.92 L274.92,80.91 L275.08,80.90 L275.24,80.89 L275.40,80.87 L275.56,80.86 L275.72,80.85 L275.88,80.83 L276.04,80.82 L276.20,80.80 L276.36,80.78 L276.52,80.77 L276.68,80.75 L276.84,80.73 L277.00,80.71 L277.16,80.69 L277.32,80.67 L277.48,80.65 L277.64,80.63 L277.80,80.61 L277.96,80.59 L278.12,80.56 L278.28,80.54 L278.44,80.51 L278.60,80.49 L278.76,80.46 L278.92,80.44 L279.08,80.41 L279.24,80.38 L279.40,80.36 L279.56,80.33 L279.72,80.30 L279.88,80.27 L280.04,80.24 L280.20,80.21 L280.36,80.18 L280.52,80.15 L280.68,80.12 L280.84,80.09 L281.00,80.06 L281.16,80.03 L281.32,80.00 L281.48,79.97 L281.64,79.94 L281.80,79.91 L281.96,79.88 L282.12,79.85 L282.28,79.82 L282.44,79.79 L282.60,79.76 L282.76,79.73 L282.92,79.70 L283.08,79.67 L283.24,79.64 L283.40,79.61 L283.56,79.58 L283.72,79.56 L283.88,79.53 L284.04,79.50 L284.20,79.48 L284.36,79.45 L284.52,79.42 L284.68,79.40 L284.84,79.37 L285.00,79.35 L285.16,79.32 L285.32,79.30 L285.48,79.28 L285.64,79.25 L285.80,79.23 L285.96,79.21 L286.12,79.19 L286.28,79.17 L286.44,79.15 L286.60,79.13 L286.76,79.11 L286.92,79.09 L287.08,79.07 L287.24,79.05 L287.40,79.04 L287.56,79.02 L287.72,79.01 L287.88,78.99 L288.04,78.98 L288.20,78.96 L288.36,78.95 L288.52,78.93 L288.68,78.92 L288.84,78.91 L289.00,78.90 L289.16,78.89 L289.32,78.87 L289.48,78.86 L289.64,78.85 L289.80,78.84 L289.96,78.83 L290.12,78.83 L290.28,78.82 L290.44,78.81 L290.60,78.80 L290.76,78.79 L290.92,78.78 L291.08,78.78 L291.24,78.77 L291.40,78.76 L291.56,78.76 L291.72,78.75 L291.88,78.74 L292.04,78.74 L292.20,78.73 L292.36,78.73 L292.52,78.72 L292.68,78.72 L292.84,78.71 L293.00,78.71 L293.16,78.70 L293.32,78.70 L293.48,78.69 L293.64,78.69 L293.80,78.68 L293.96,78.68 L294.12,78.68 L294.28,78.67 L294.44,78.67 L294.60,78.67 L294.76,78.67 L294.92,78.66 L295.08,78.66 L295.24,78.66 L295.40,78.65 L295.56,78.65 L295.72,78.65 L295.88,78.65 L296.04,78.65 L296.20,78.64 L296.36,78.64 L296.52,78.64 L296.68,78.64 L296.84,78.64 L297.00,78.63 L297.16,78.63 L297.32,78.63 L297.48,78.63 L297.64,78.63 L297.80,78.62 L297.96,78.62 L298.12,78.62 L298.28,78.62 L298.44,78.62 L298.60,78.62 L298.76,78.61 L298.92,78.61 L299.08,78.61 L299.24,78.61 L299.40,78.61 L299.56,78.60 L299.72,78.60 L299.88,78.60 L300.04,78.60 L300.20,78.59 L300.36,78.59 L300.52,78.59 L300.68,78.59 L300.84,78.58 L301.00,78.58 L301.16,78.58 L301.32,78.57 L301.48,78.57 L301.64,78.57 L301.80,78.56 L301.96,78.56 L302.12,78.55 L302.28,78.55 L302.44,78.55 L302.60,78.54 L302.76,78.54 L302.92,78.53 L303.08,78.53 L303.24,78.52 L303.40,78.52" stroke-dasharray="12.8 2.5 4.5 2.5"/>
</g>
<path d="M239.40,127.10 v-5.8 M245.80,127.10 v-3.4 M252.20,127.10 v-3.4 M258.60,127.10 v-3.4 M265.00,127.10 v-3.4 M271.40,127.10 v-5.8 M277.80,127.10 v-3.4 M284.20,127.10 v-3.4 M290.60,127.10 v-3.4 M297.00,127.10 v-3.4 M303.40,127.10 v-5.8 M239.4,127.10 h5.8 M239.4,122.36 h3.4 M239.4,117.62 h3.4 M239.4,112.88 h3.4 M239.4,108.14 h3.4 M239.4,103.40 h5.8 M239.4,98.66 h3.4 M239.4,93.92 h3.4 M239.4,89.18 h3.4 M239.4,84.44 h3.4 M239.4,79.70 h5.8 M239.4,74.96 h3.4 M239.4,70.22 h3.4 M239.4,65.48 h3.4 M239.4,60.74 h3.4 M239.4,56.00 h5.8" stroke="#4c4c4c" stroke-width="0.9" fill="none"/>
<path d="M239.4,56.00 V127.10 H309.80" stroke="#4c4c4c" stroke-width="1.1" fill="none"/>
<text transform="translate(239.10,140.60) scale(1.03,1)" font-size="8.3" font-weight="normal" fill="#444" text-anchor="middle" stroke="#444" stroke-width="0.3">−50</text>
<text transform="translate(271.40,140.60) scale(1.03,1)" font-size="8.3" font-weight="normal" fill="#444" text-anchor="middle" stroke="#444" stroke-width="0.3">0</text>
<text transform="translate(303.40,140.60) scale(1.03,1)" font-size="8.3" font-weight="normal" fill="#444" text-anchor="middle" stroke="#444" stroke-width="0.3">50</text>
<text transform="translate(234.80,58.95) scale(1.03,1)" font-size="8.3" font-weight="normal" fill="#444" text-anchor="end" stroke="#444" stroke-width="0.3">1,000</text>
<text transform="translate(234.80,82.65) scale(1.03,1)" font-size="8.3" font-weight="normal" fill="#444" text-anchor="end" stroke="#444" stroke-width="0.3">0</text>
<text transform="translate(234.80,106.35) scale(1.03,1)" font-size="8.3" font-weight="normal" fill="#444" text-anchor="end" stroke="#444" stroke-width="0.3">−1,000</text>
<text transform="translate(234.80,130.05) scale(1.03,1)" font-size="8.3" font-weight="normal" fill="#444" text-anchor="end" stroke="#444" stroke-width="0.3">−2,000</text>
<path d="M243.1,41.7 H264.9" stroke="#000" stroke-width="2.7" fill="none" stroke-dasharray="13.5 2.3"/>
<text transform="translate(270.00,44.20) scale(1.02,1)" font-size="7.0" font-weight="bold" fill="#000" text-anchor="start">λ= - 4000Å<tspan font-size="5.0" dy="-3.0">2</tspan></text>
<path d="M243.1,51.6 H264.9" stroke="#000" stroke-width="2.7" fill="none" stroke-dasharray="4.5 2.0"/>
<text transform="translate(270.00,54.10) scale(1.02,1)" font-size="7.0" font-weight="bold" fill="#000" text-anchor="start">λ= - 3000Å<tspan font-size="5.0" dy="-3.0">2</tspan></text>
<path d="M243.1,61.4 H264.9" stroke="#000" stroke-width="2.7" fill="none" stroke-dasharray="12.8 2.5 4.5 2.5"/>
<text transform="translate(270.00,63.90) scale(1.02,1)" font-size="7.0" font-weight="bold" fill="#000" text-anchor="start">λ= - 2000Å<tspan font-size="5.0" dy="-3.0">2</tspan></text>
</svg></body></html>
